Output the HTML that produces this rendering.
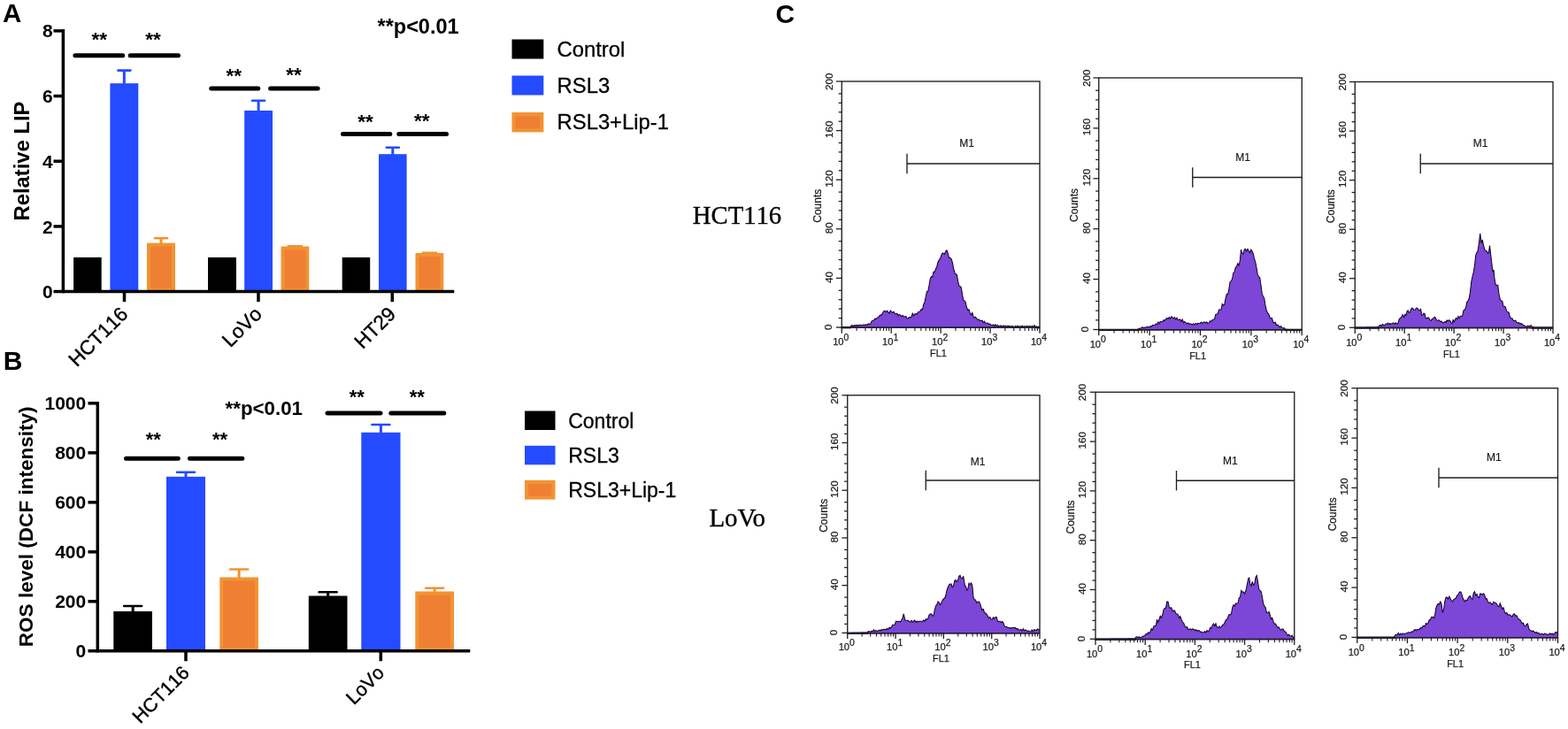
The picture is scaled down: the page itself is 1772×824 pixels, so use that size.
<!DOCTYPE html>
<html lang="en">
<head>
<meta charset="utf-8">
<title>Figure - RSL3 / Lip-1: relative LIP, ROS level and FL1 histograms</title>
<style>
html,body{margin:0;padding:0;background:#fff;}
body{width:1772px;height:824px;overflow:hidden;font-family:"Liberation Sans",sans-serif;}
svg{display:block;position:absolute;left:0;top:0;}
svg text{white-space:pre;}
</style>
</head>
<body>
<svg width="1772" height="824" viewBox="0 0 1772 824" role="img" aria-label="Figure: relative LIP, ROS level and flow cytometry histograms">
<rect x="0" y="0" width="1772" height="824" fill="#ffffff"/>
<g id="panelA">
<text x="3" y="25" font-family='"Liberation Sans", sans-serif' font-size="29.5" font-weight="bold" text-anchor="start" fill="#000">A</text>
<rect x="83.1" y="290.9" width="31.6" height="38.7" fill="#000"/>
<rect x="124.4" y="94.2" width="31.9" height="235.4" fill="#244bff"/>
<line x1="140.35" y1="79.6" x2="140.35" y2="95.2" stroke="#244bff" stroke-width="3" stroke-linecap="butt"/>
<line x1="133.35" y1="79.6" x2="147.35" y2="79.6" stroke="#244bff" stroke-width="2.6" stroke-linecap="round"/>
<rect x="168" y="276.6" width="28" height="51" fill="#ee7f33" stroke="#f29333" stroke-width="4"/>
<line x1="182" y1="269.3" x2="182" y2="275.6" stroke="#f29333" stroke-width="3" stroke-linecap="butt"/>
<line x1="175" y1="269.3" x2="189" y2="269.3" stroke="#f29333" stroke-width="2.6" stroke-linecap="round"/>
<rect x="235" y="290.9" width="32" height="38.7" fill="#000"/>
<rect x="276.2" y="125" width="31.8" height="204.6" fill="#244bff"/>
<line x1="292.1" y1="113.8" x2="292.1" y2="126" stroke="#244bff" stroke-width="3" stroke-linecap="butt"/>
<line x1="285.1" y1="113.8" x2="299.1" y2="113.8" stroke="#244bff" stroke-width="2.6" stroke-linecap="round"/>
<rect x="319.5" y="280.5" width="27.8" height="47.1" fill="#ee7f33" stroke="#f29333" stroke-width="4"/>
<rect x="386.7" y="290.9" width="31.5" height="38.7" fill="#000"/>
<rect x="428" y="174.2" width="31.6" height="155.4" fill="#244bff"/>
<line x1="443.8" y1="166.8" x2="443.8" y2="175.2" stroke="#244bff" stroke-width="3" stroke-linecap="butt"/>
<line x1="436.8" y1="166.8" x2="450.8" y2="166.8" stroke="#244bff" stroke-width="2.6" stroke-linecap="round"/>
<rect x="471.5" y="288" width="27.8" height="39.6" fill="#ee7f33" stroke="#f29333" stroke-width="4"/>
<line x1="325.5" y1="278" x2="341.3" y2="278" stroke="#f29333" stroke-width="2" stroke-linecap="round"/>
<line x1="477.5" y1="285.5" x2="493.3" y2="285.5" stroke="#f29333" stroke-width="2" stroke-linecap="round"/>
<line x1="71.4" y1="33.1" x2="71.4" y2="331.35" stroke="#000" stroke-width="3.5" stroke-linecap="butt"/>
<line x1="60.5" y1="329.6" x2="513.3" y2="329.6" stroke="#000" stroke-width="3.5" stroke-linecap="butt"/>
<text x="59.6" y="337.2" font-family='"Liberation Sans", sans-serif' font-size="21" font-weight="bold" text-anchor="end" fill="#000">0</text>
<line x1="60.5" y1="255.92" x2="71.4" y2="255.92" stroke="#000" stroke-width="3.5" stroke-linecap="butt"/>
<text x="59.6" y="263.52" font-family='"Liberation Sans", sans-serif' font-size="21" font-weight="bold" text-anchor="end" fill="#000">2</text>
<line x1="60.5" y1="182.24" x2="71.4" y2="182.24" stroke="#000" stroke-width="3.5" stroke-linecap="butt"/>
<text x="59.6" y="189.84" font-family='"Liberation Sans", sans-serif' font-size="21" font-weight="bold" text-anchor="end" fill="#000">4</text>
<line x1="60.5" y1="108.56" x2="71.4" y2="108.56" stroke="#000" stroke-width="3.5" stroke-linecap="butt"/>
<text x="59.6" y="116.16" font-family='"Liberation Sans", sans-serif' font-size="21" font-weight="bold" text-anchor="end" fill="#000">6</text>
<line x1="60.5" y1="34.88" x2="71.4" y2="34.88" stroke="#000" stroke-width="3.5" stroke-linecap="butt"/>
<text x="59.6" y="42.48" font-family='"Liberation Sans", sans-serif' font-size="21" font-weight="bold" text-anchor="end" fill="#000">8</text>
<line x1="140.5" y1="329.6" x2="140.5" y2="341.2" stroke="#000" stroke-width="3.5" stroke-linecap="butt"/>
<line x1="292" y1="329.6" x2="292" y2="341.2" stroke="#000" stroke-width="3.5" stroke-linecap="butt"/>
<line x1="443.3" y1="329.6" x2="443.3" y2="341.2" stroke="#000" stroke-width="3.5" stroke-linecap="butt"/>
<text x="32.9" y="182" font-family='"Liberation Sans", sans-serif' font-size="23.8" font-weight="bold" text-anchor="middle" fill="#000" transform="rotate(-90 32.9 182)">Relative LIP</text>
<text x="145.9" y="356.3" font-family='"Liberation Sans", sans-serif' font-size="22.5" font-weight="normal" text-anchor="end" fill="#000" transform="rotate(-45 145.9 356.3)" style="font-kerning:none" stroke="#000" stroke-width="0.4">HCT116</text>
<text x="297.4" y="356.3" font-family='"Liberation Sans", sans-serif' font-size="22.5" font-weight="normal" text-anchor="end" fill="#000" transform="rotate(-45 297.4 356.3)" style="font-kerning:none" stroke="#000" stroke-width="0.4">LoVo</text>
<text x="448.7" y="356.3" font-family='"Liberation Sans", sans-serif' font-size="22.5" font-weight="normal" text-anchor="end" fill="#000" transform="rotate(-45 448.7 356.3)" style="font-kerning:none" stroke="#000" stroke-width="0.4">HT29</text>
<line x1="84.9" y1="62.8" x2="138.7" y2="62.8" stroke="#000" stroke-width="5" stroke-linecap="round"/>
<text x="112.2" y="52.4" font-family='"Liberation Sans", sans-serif' font-size="22.5" font-weight="bold" text-anchor="middle" fill="#000">**</text>
<line x1="147.2" y1="62.8" x2="201.5" y2="62.8" stroke="#000" stroke-width="5" stroke-linecap="round"/>
<text x="173" y="52.4" font-family='"Liberation Sans", sans-serif' font-size="22.5" font-weight="bold" text-anchor="middle" fill="#000">**</text>
<line x1="238.7" y1="100" x2="291.8" y2="100" stroke="#000" stroke-width="5" stroke-linecap="round"/>
<text x="264.2" y="93.4" font-family='"Liberation Sans", sans-serif' font-size="22.5" font-weight="bold" text-anchor="middle" fill="#000">**</text>
<line x1="305.6" y1="100" x2="359.1" y2="100" stroke="#000" stroke-width="5" stroke-linecap="round"/>
<text x="331.9" y="92.2" font-family='"Liberation Sans", sans-serif' font-size="22.5" font-weight="bold" text-anchor="middle" fill="#000">**</text>
<line x1="387.5" y1="151.6" x2="440.8" y2="151.6" stroke="#000" stroke-width="5" stroke-linecap="round"/>
<text x="413.1" y="144.6" font-family='"Liberation Sans", sans-serif' font-size="22.5" font-weight="bold" text-anchor="middle" fill="#000">**</text>
<line x1="450.8" y1="151.6" x2="504.5" y2="151.6" stroke="#000" stroke-width="5" stroke-linecap="round"/>
<text x="476.8" y="143.6" font-family='"Liberation Sans", sans-serif' font-size="22.5" font-weight="bold" text-anchor="middle" fill="#000">**</text>
<text x="426.5" y="38.1" font-family='"Liberation Sans", sans-serif' font-size="23.5" font-weight="bold" text-anchor="start" fill="#000">**p&lt;0.01</text>
<rect x="578.5" y="44.5" width="35.8" height="22" fill="#000"/>
<text x="629.6" y="63.6" font-family='"Liberation Sans", sans-serif' font-size="23.8" font-weight="normal" text-anchor="start" fill="#000" stroke="#000" stroke-width="0.3">Control</text>
<rect x="578.5" y="85.5" width="35.8" height="22" fill="#244bff"/>
<text x="629.6" y="104.6" font-family='"Liberation Sans", sans-serif' font-size="23.8" font-weight="normal" text-anchor="start" fill="#000" stroke="#000" stroke-width="0.3">RSL3</text>
<rect x="580.6" y="129.1" width="31.6" height="18.2" fill="#ee7f33" stroke="#f29333" stroke-width="4.2"/>
<text x="629.6" y="145.8" font-family='"Liberation Sans", sans-serif' font-size="23.8" font-weight="normal" text-anchor="start" fill="#000" stroke="#000" stroke-width="0.3">RSL3+Lip-1</text>
</g>
<g id="panelB">
<text x="3.7" y="417.6" font-family='"Liberation Sans", sans-serif' font-size="30" font-weight="bold" text-anchor="start" fill="#000">B</text>
<rect x="128.3" y="691" width="43.7" height="44.8" fill="#000"/>
<line x1="150.15" y1="685" x2="150.15" y2="692" stroke="#000" stroke-width="3" stroke-linecap="butt"/>
<line x1="140.15" y1="685" x2="160.15" y2="685" stroke="#000" stroke-width="2.6" stroke-linecap="round"/>
<rect x="188" y="538.8" width="44" height="197" fill="#244bff"/>
<line x1="210" y1="533.8" x2="210" y2="539.8" stroke="#244bff" stroke-width="3" stroke-linecap="butt"/>
<line x1="200" y1="533.8" x2="220" y2="533.8" stroke="#244bff" stroke-width="2.6" stroke-linecap="round"/>
<rect x="250.3" y="654.5" width="39.7" height="79.3" fill="#ee7f33" stroke="#f29333" stroke-width="4"/>
<line x1="270.15" y1="643.5" x2="270.15" y2="653.5" stroke="#f29333" stroke-width="3" stroke-linecap="butt"/>
<line x1="260.15" y1="643.5" x2="280.15" y2="643.5" stroke="#f29333" stroke-width="2.6" stroke-linecap="round"/>
<rect x="348.8" y="673.5" width="43.7" height="62.3" fill="#000"/>
<line x1="370.65" y1="669.3" x2="370.65" y2="674.5" stroke="#000" stroke-width="3" stroke-linecap="butt"/>
<line x1="360.65" y1="669.3" x2="380.65" y2="669.3" stroke="#000" stroke-width="2.6" stroke-linecap="round"/>
<rect x="408.3" y="488.8" width="44.2" height="247" fill="#244bff"/>
<line x1="430.4" y1="480" x2="430.4" y2="489.8" stroke="#244bff" stroke-width="3" stroke-linecap="butt"/>
<line x1="420.4" y1="480" x2="440.4" y2="480" stroke="#244bff" stroke-width="2.6" stroke-linecap="round"/>
<rect x="471.3" y="670.5" width="39.7" height="63.3" fill="#ee7f33" stroke="#f29333" stroke-width="4"/>
<line x1="491.15" y1="664.8" x2="491.15" y2="669.5" stroke="#f29333" stroke-width="3" stroke-linecap="butt"/>
<line x1="481.15" y1="664.8" x2="501.15" y2="664.8" stroke="#f29333" stroke-width="2.6" stroke-linecap="round"/>
<line x1="110.3" y1="453.9" x2="110.3" y2="737.55" stroke="#000" stroke-width="3.5" stroke-linecap="butt"/>
<line x1="99.5" y1="735.8" x2="531.3" y2="735.8" stroke="#000" stroke-width="3.5" stroke-linecap="butt"/>
<text x="97.2" y="743.4" font-family='"Liberation Sans", sans-serif' font-size="21" font-weight="bold" text-anchor="end" fill="#000">0</text>
<line x1="99.5" y1="679.8" x2="110.3" y2="679.8" stroke="#000" stroke-width="3.5" stroke-linecap="butt"/>
<text x="97.2" y="687.4" font-family='"Liberation Sans", sans-serif' font-size="21" font-weight="bold" text-anchor="end" fill="#000">200</text>
<line x1="99.5" y1="623.8" x2="110.3" y2="623.8" stroke="#000" stroke-width="3.5" stroke-linecap="butt"/>
<text x="97.2" y="631.4" font-family='"Liberation Sans", sans-serif' font-size="21" font-weight="bold" text-anchor="end" fill="#000">400</text>
<line x1="99.5" y1="567.8" x2="110.3" y2="567.8" stroke="#000" stroke-width="3.5" stroke-linecap="butt"/>
<text x="97.2" y="575.4" font-family='"Liberation Sans", sans-serif' font-size="21" font-weight="bold" text-anchor="end" fill="#000">600</text>
<line x1="99.5" y1="511.8" x2="110.3" y2="511.8" stroke="#000" stroke-width="3.5" stroke-linecap="butt"/>
<text x="97.2" y="519.4" font-family='"Liberation Sans", sans-serif' font-size="21" font-weight="bold" text-anchor="end" fill="#000">800</text>
<line x1="99.5" y1="455.8" x2="110.3" y2="455.8" stroke="#000" stroke-width="3.5" stroke-linecap="butt"/>
<text x="97.2" y="463.4" font-family='"Liberation Sans", sans-serif' font-size="21" font-weight="bold" text-anchor="end" fill="#000">1000</text>
<line x1="210" y1="735.8" x2="210" y2="747.3" stroke="#000" stroke-width="3.5" stroke-linecap="butt"/>
<line x1="430.3" y1="735.8" x2="430.3" y2="747.3" stroke="#000" stroke-width="3.5" stroke-linecap="butt"/>
<text x="36.9" y="595.3" font-family='"Liberation Sans", sans-serif' font-size="22.55" font-weight="bold" text-anchor="middle" fill="#000" transform="rotate(-90 36.9 595.3)">ROS level (DCF intensity)</text>
<text x="215.3" y="761.8" font-family='"Liberation Sans", sans-serif' font-size="21.6" font-weight="normal" text-anchor="end" fill="#000" transform="rotate(-45 215.3 761.8)" style="font-kerning:none" stroke="#000" stroke-width="0.4">HCT116</text>
<text x="435.6" y="761.8" font-family='"Liberation Sans", sans-serif' font-size="21.6" font-weight="normal" text-anchor="end" fill="#000" transform="rotate(-45 435.6 761.8)" style="font-kerning:none" stroke="#000" stroke-width="0.4">LoVo</text>
<line x1="142.5" y1="518.3" x2="201.3" y2="518.3" stroke="#000" stroke-width="5" stroke-linecap="round"/>
<text x="173.2" y="503.9" font-family='"Liberation Sans", sans-serif' font-size="22" font-weight="bold" text-anchor="middle" fill="#000">**</text>
<line x1="214.5" y1="518.3" x2="273.8" y2="518.3" stroke="#000" stroke-width="5" stroke-linecap="round"/>
<text x="248.5" y="503.9" font-family='"Liberation Sans", sans-serif' font-size="22" font-weight="bold" text-anchor="middle" fill="#000">**</text>
<line x1="370" y1="467" x2="430" y2="467" stroke="#000" stroke-width="5" stroke-linecap="round"/>
<text x="403.2" y="456" font-family='"Liberation Sans", sans-serif' font-size="22" font-weight="bold" text-anchor="middle" fill="#000">**</text>
<line x1="441.8" y1="467" x2="501.8" y2="467" stroke="#000" stroke-width="5" stroke-linecap="round"/>
<text x="471.2" y="456" font-family='"Liberation Sans", sans-serif' font-size="22" font-weight="bold" text-anchor="middle" fill="#000">**</text>
<text x="254.6" y="468.8" font-family='"Liberation Sans", sans-serif' font-size="22.3" font-weight="bold" text-anchor="start" fill="#000">**p&lt;0.01</text>
<rect x="593" y="464.5" width="34.5" height="21.5" fill="#000"/>
<text x="642.2" y="484.1" font-family='"Liberation Sans", sans-serif' font-size="23" font-weight="normal" text-anchor="start" fill="#000" stroke="#000" stroke-width="0.3">Control</text>
<rect x="593" y="503.8" width="34.5" height="21.5" fill="#244bff"/>
<text x="642.2" y="522.7" font-family='"Liberation Sans", sans-serif' font-size="23" font-weight="normal" text-anchor="start" fill="#000" stroke="#000" stroke-width="0.3">RSL3</text>
<rect x="595.1" y="544.9" width="30.3" height="17.6" fill="#ee7f33" stroke="#f29333" stroke-width="4.2"/>
<text x="642.2" y="561.6" font-family='"Liberation Sans", sans-serif' font-size="23" font-weight="normal" text-anchor="start" fill="#000" stroke="#000" stroke-width="0.3">RSL3+Lip-1</text>
</g>
<g id="panelC">
<text x="876.6" y="25.7" font-family='"Liberation Sans", sans-serif' font-size="30" font-weight="bold" text-anchor="start" fill="#000">C</text>
<text x="782.8" y="252.9" font-family='"Liberation Serif", serif' font-size="28.7" font-weight="normal" text-anchor="start" fill="#000" style="font-kerning:none" stroke="#000" stroke-width="0.35">HCT116</text>
<text x="801.4" y="594.9" font-family='"Liberation Serif", serif' font-size="28.9" font-weight="normal" text-anchor="start" fill="#000" stroke="#000" stroke-width="0.35">LoVo</text>
<g id="hist1">
<path d="M951.25 370.3 L951.25 370.3 L952.44 370.1 L953.62 370.1 L954.81 370.1 L956 370.1 L957.19 370.1 L958.38 370.1 L959.56 370.1 L960.75 370.3 L961.75 368.23 L962.95 367.6 L964.16 368.88 L965.36 367.51 L966.57 368.27 L967.77 367.46 L968.98 368.12 L970.18 367.45 L971.39 367.89 L972.59 367.1 L973.8 367.9 L975 367.4 L976.25 366.77 L977.5 367.63 L978.75 366.68 L980 367.52 L981.25 365.87 L982.5 366.56 L983.75 365.89 L985 363.1 L986.25 362.5 L987.5 362.07 L988.75 360.16 L990 360.6 L991.25 359.16 L992.5 358.75 L993.75 357.09 L995 355.77 L996.25 356.25 L997.5 353.75 L998.75 351.61 L1000 351.25 L1001.25 352.74 L1002.5 351.08 L1003.75 353 L1005 354.02 L1006.25 350.92 L1007.5 352.5 L1008.75 353.53 L1010 352.35 L1011.25 354.21 L1012.5 355 L1013.75 354.22 L1015 356.73 L1016.25 355.44 L1017.5 356.25 L1018.75 357.75 L1020 356.36 L1021.25 358.02 L1022.5 358 L1023.75 357.44 L1025 359.73 L1026.25 360 L1027.5 358.32 L1028.75 359.06 L1030 358 L1031.25 354.18 L1032.5 356.9 L1033.75 354.87 L1035 354.5 L1036.25 355.2 L1037.5 352.69 L1038.75 352.5 L1040 351.62 L1041.25 349.4 L1042.5 350 L1043.75 343.75 L1045 341.45 L1046.25 335 L1047.5 329.41 L1048.75 329.22 L1050 322.5 L1051.25 315.12 L1052.5 312.5 L1053.75 313.43 L1055 307.07 L1056.25 307.5 L1057.5 304 L1058.75 301.25 L1060 296.27 L1061.25 293.75 L1062.5 292.44 L1063.75 288.75 L1065 286.01 L1066.25 286.25 L1067.5 287.14 L1068.75 283.75 L1070 282.81 L1071.25 286.25 L1072.5 291.4 L1073.75 291.25 L1075 292.55 L1076.25 296.25 L1078 305 L1079.25 309.08 L1080.5 310 L1081.5 310.75 L1082.5 317.5 L1083.75 322.51 L1085 323.75 L1086.25 324.71 L1087.5 332.5 L1088.75 339.39 L1090 340 L1091.25 342.06 L1092.5 347.5 L1093.75 350.53 L1095 349.71 L1096.25 353.75 L1097.5 355.98 L1098.75 353.48 L1100 357.5 L1101.25 359.16 L1102.5 358.19 L1103.75 360 L1105 361.65 L1106.25 360.88 L1107.5 362.43 L1108.75 362.5 L1110 362.14 L1111.25 364.53 L1112.5 363.21 L1113.75 365.49 L1115 365.16 L1116.25 365.15 L1117.5 366.47 L1118.75 366.18 L1120 367.33 L1121.25 367.4 L1122.5 366.86 L1123.75 368.36 L1125 366.84 L1126.25 368.57 L1127.5 367.41 L1128.75 368.7 L1130 368.51 L1131.25 367.81 L1132.5 369.35 L1133.75 368.12 L1135 368.56 L1136.25 368.2 L1137.5 369.56 L1138.75 368.08 L1140 368.62 L1141.25 368.44 L1142.5 369.34 L1143.75 368.43 L1145 369.07 L1146.25 369.55 L1147.5 368.36 L1148.75 369.61 L1150 368.07 L1151.25 369.65 L1152.5 368.63 L1153.75 369.19 L1155 368.17 L1156.25 369.48 L1157.5 368.54 L1158.75 369.13 L1160 368.79 L1161.25 368.63 L1162.5 369.15 L1163.75 368.37 L1165 369.55 L1166.25 368.39 L1167.5 369.6 L1168.75 367.74 L1170 369.4 L1171.25 368.82 L1172.5 369.47 L1173.75 369.3 L1175 369.35 L1175 370.3 Z" fill="#7c46d6" stroke="none"/>
<path d="M951.25 370.3 L952.44 370.1 L953.62 370.1 L954.81 370.1 L956 370.1 L957.19 370.1 L958.38 370.1 L959.56 370.1 L960.75 370.3 L961.75 368.23 L962.95 367.6 L964.16 368.88 L965.36 367.51 L966.57 368.27 L967.77 367.46 L968.98 368.12 L970.18 367.45 L971.39 367.89 L972.59 367.1 L973.8 367.9 L975 367.4 L976.25 366.77 L977.5 367.63 L978.75 366.68 L980 367.52 L981.25 365.87 L982.5 366.56 L983.75 365.89 L985 363.1 L986.25 362.5 L987.5 362.07 L988.75 360.16 L990 360.6 L991.25 359.16 L992.5 358.75 L993.75 357.09 L995 355.77 L996.25 356.25 L997.5 353.75 L998.75 351.61 L1000 351.25 L1001.25 352.74 L1002.5 351.08 L1003.75 353 L1005 354.02 L1006.25 350.92 L1007.5 352.5 L1008.75 353.53 L1010 352.35 L1011.25 354.21 L1012.5 355 L1013.75 354.22 L1015 356.73 L1016.25 355.44 L1017.5 356.25 L1018.75 357.75 L1020 356.36 L1021.25 358.02 L1022.5 358 L1023.75 357.44 L1025 359.73 L1026.25 360 L1027.5 358.32 L1028.75 359.06 L1030 358 L1031.25 354.18 L1032.5 356.9 L1033.75 354.87 L1035 354.5 L1036.25 355.2 L1037.5 352.69 L1038.75 352.5 L1040 351.62 L1041.25 349.4 L1042.5 350 L1043.75 343.75 L1045 341.45 L1046.25 335 L1047.5 329.41 L1048.75 329.22 L1050 322.5 L1051.25 315.12 L1052.5 312.5 L1053.75 313.43 L1055 307.07 L1056.25 307.5 L1057.5 304 L1058.75 301.25 L1060 296.27 L1061.25 293.75 L1062.5 292.44 L1063.75 288.75 L1065 286.01 L1066.25 286.25 L1067.5 287.14 L1068.75 283.75 L1070 282.81 L1071.25 286.25 L1072.5 291.4 L1073.75 291.25 L1075 292.55 L1076.25 296.25 L1078 305 L1079.25 309.08 L1080.5 310 L1081.5 310.75 L1082.5 317.5 L1083.75 322.51 L1085 323.75 L1086.25 324.71 L1087.5 332.5 L1088.75 339.39 L1090 340 L1091.25 342.06 L1092.5 347.5 L1093.75 350.53 L1095 349.71 L1096.25 353.75 L1097.5 355.98 L1098.75 353.48 L1100 357.5 L1101.25 359.16 L1102.5 358.19 L1103.75 360 L1105 361.65 L1106.25 360.88 L1107.5 362.43 L1108.75 362.5 L1110 362.14 L1111.25 364.53 L1112.5 363.21 L1113.75 365.49 L1115 365.16 L1116.25 365.15 L1117.5 366.47 L1118.75 366.18 L1120 367.33 L1121.25 367.4 L1122.5 366.86 L1123.75 368.36 L1125 366.84 L1126.25 368.57 L1127.5 367.41 L1128.75 368.7 L1130 368.51 L1131.25 367.81 L1132.5 369.35 L1133.75 368.12 L1135 368.56 L1136.25 368.2 L1137.5 369.56 L1138.75 368.08 L1140 368.62 L1141.25 368.44 L1142.5 369.34 L1143.75 368.43 L1145 369.07 L1146.25 369.55 L1147.5 368.36 L1148.75 369.61 L1150 368.07 L1151.25 369.65 L1152.5 368.63 L1153.75 369.19 L1155 368.17 L1156.25 369.48 L1157.5 368.54 L1158.75 369.13 L1160 368.79 L1161.25 368.63 L1162.5 369.15 L1163.75 368.37 L1165 369.55 L1166.25 368.39 L1167.5 369.6 L1168.75 367.74 L1170 369.4 L1171.25 368.82 L1172.5 369.47 L1173.75 369.3 L1175 369.35" fill="none" stroke="#12042a" stroke-width="1.05" stroke-linejoin="miter" stroke-miterlimit="3"/>
<rect x="951.25" y="92" width="223.75" height="278.3" fill="none" stroke="#1f1f1f" stroke-width="1.35"/>
<line x1="950.75" y1="370.3" x2="961.75" y2="370.3" stroke="#0c0c0c" stroke-width="2.2" stroke-linecap="butt"/>
<line x1="1171.25" y1="370.3" x2="1175" y2="370.3" stroke="#0c0c0c" stroke-width="2.2" stroke-linecap="butt"/>
<line x1="951.25" y1="370.3" x2="1175" y2="370.3" stroke="#241a33" stroke-width="1.5" stroke-linecap="butt"/>
<line x1="944.95" y1="370" x2="951.25" y2="370" stroke="#1f1f1f" stroke-width="1.3" stroke-linecap="butt"/>
<line x1="947.65" y1="359.57" x2="951.25" y2="359.57" stroke="#1f1f1f" stroke-width="1.25" stroke-linecap="butt"/>
<line x1="947.65" y1="349.15" x2="951.25" y2="349.15" stroke="#1f1f1f" stroke-width="1.25" stroke-linecap="butt"/>
<line x1="947.65" y1="338.73" x2="951.25" y2="338.73" stroke="#1f1f1f" stroke-width="1.25" stroke-linecap="butt"/>
<line x1="947.65" y1="328.3" x2="951.25" y2="328.3" stroke="#1f1f1f" stroke-width="1.25" stroke-linecap="butt"/>
<line x1="944.95" y1="314.4" x2="951.25" y2="314.4" stroke="#1f1f1f" stroke-width="1.3" stroke-linecap="butt"/>
<line x1="947.65" y1="303.97" x2="951.25" y2="303.97" stroke="#1f1f1f" stroke-width="1.25" stroke-linecap="butt"/>
<line x1="947.65" y1="293.55" x2="951.25" y2="293.55" stroke="#1f1f1f" stroke-width="1.25" stroke-linecap="butt"/>
<line x1="947.65" y1="283.12" x2="951.25" y2="283.12" stroke="#1f1f1f" stroke-width="1.25" stroke-linecap="butt"/>
<line x1="947.65" y1="272.7" x2="951.25" y2="272.7" stroke="#1f1f1f" stroke-width="1.25" stroke-linecap="butt"/>
<line x1="944.95" y1="258.8" x2="951.25" y2="258.8" stroke="#1f1f1f" stroke-width="1.3" stroke-linecap="butt"/>
<line x1="947.65" y1="248.38" x2="951.25" y2="248.38" stroke="#1f1f1f" stroke-width="1.25" stroke-linecap="butt"/>
<line x1="947.65" y1="237.95" x2="951.25" y2="237.95" stroke="#1f1f1f" stroke-width="1.25" stroke-linecap="butt"/>
<line x1="947.65" y1="227.53" x2="951.25" y2="227.53" stroke="#1f1f1f" stroke-width="1.25" stroke-linecap="butt"/>
<line x1="947.65" y1="217.1" x2="951.25" y2="217.1" stroke="#1f1f1f" stroke-width="1.25" stroke-linecap="butt"/>
<line x1="944.95" y1="203.2" x2="951.25" y2="203.2" stroke="#1f1f1f" stroke-width="1.3" stroke-linecap="butt"/>
<line x1="947.65" y1="192.77" x2="951.25" y2="192.77" stroke="#1f1f1f" stroke-width="1.25" stroke-linecap="butt"/>
<line x1="947.65" y1="182.35" x2="951.25" y2="182.35" stroke="#1f1f1f" stroke-width="1.25" stroke-linecap="butt"/>
<line x1="947.65" y1="171.92" x2="951.25" y2="171.92" stroke="#1f1f1f" stroke-width="1.25" stroke-linecap="butt"/>
<line x1="947.65" y1="161.5" x2="951.25" y2="161.5" stroke="#1f1f1f" stroke-width="1.25" stroke-linecap="butt"/>
<line x1="944.95" y1="147.6" x2="951.25" y2="147.6" stroke="#1f1f1f" stroke-width="1.3" stroke-linecap="butt"/>
<line x1="947.65" y1="137.17" x2="951.25" y2="137.17" stroke="#1f1f1f" stroke-width="1.25" stroke-linecap="butt"/>
<line x1="947.65" y1="126.75" x2="951.25" y2="126.75" stroke="#1f1f1f" stroke-width="1.25" stroke-linecap="butt"/>
<line x1="947.65" y1="116.32" x2="951.25" y2="116.32" stroke="#1f1f1f" stroke-width="1.25" stroke-linecap="butt"/>
<line x1="947.65" y1="105.9" x2="951.25" y2="105.9" stroke="#1f1f1f" stroke-width="1.25" stroke-linecap="butt"/>
<line x1="944.95" y1="92" x2="951.25" y2="92" stroke="#1f1f1f" stroke-width="1.3" stroke-linecap="butt"/>
<text x="939.75" y="369.7" font-family='"Liberation Sans", sans-serif' font-size="11.7" font-weight="normal" text-anchor="middle" fill="#1c1c1c" transform="rotate(-90 939.75 369.7)" stroke="#1c1c1c" stroke-width="0.25">0</text>
<text x="940.95" y="313.4" font-family='"Liberation Sans", sans-serif' font-size="11.7" font-weight="normal" text-anchor="middle" fill="#1c1c1c" transform="rotate(-90 940.95 313.4)" stroke="#1c1c1c" stroke-width="0.25">40</text>
<text x="940.95" y="257.8" font-family='"Liberation Sans", sans-serif' font-size="11.7" font-weight="normal" text-anchor="middle" fill="#1c1c1c" transform="rotate(-90 940.95 257.8)" stroke="#1c1c1c" stroke-width="0.25">80</text>
<text x="940.95" y="201.9" font-family='"Liberation Sans", sans-serif' font-size="11.7" font-weight="normal" text-anchor="middle" fill="#1c1c1c" transform="rotate(-90 940.95 201.9)" stroke="#1c1c1c" stroke-width="0.25">120</text>
<text x="940.95" y="146.3" font-family='"Liberation Sans", sans-serif' font-size="11.7" font-weight="normal" text-anchor="middle" fill="#1c1c1c" transform="rotate(-90 940.95 146.3)" stroke="#1c1c1c" stroke-width="0.25">160</text>
<text x="940.95" y="92.2" font-family='"Liberation Sans", sans-serif' font-size="11.7" font-weight="normal" text-anchor="middle" fill="#1c1c1c" transform="rotate(-90 940.95 92.2)" stroke="#1c1c1c" stroke-width="0.25">200</text>
<text x="928.05" y="232.75" font-family='"Liberation Sans", sans-serif' font-size="12" font-weight="normal" text-anchor="middle" fill="#1c1c1c" transform="rotate(-90 928.05 232.75)" stroke="#1c1c1c" stroke-width="0.25">Counts</text>
<line x1="951.25" y1="370.3" x2="951.25" y2="376.7" stroke="#1f1f1f" stroke-width="1.3" stroke-linecap="butt"/>
<line x1="968.09" y1="370.3" x2="968.09" y2="374" stroke="#1f1f1f" stroke-width="1.1" stroke-linecap="butt"/>
<line x1="977.94" y1="370.3" x2="977.94" y2="374" stroke="#1f1f1f" stroke-width="1.1" stroke-linecap="butt"/>
<line x1="984.93" y1="370.3" x2="984.93" y2="374" stroke="#1f1f1f" stroke-width="1.1" stroke-linecap="butt"/>
<line x1="990.35" y1="370.3" x2="990.35" y2="374" stroke="#1f1f1f" stroke-width="1.1" stroke-linecap="butt"/>
<line x1="994.78" y1="370.3" x2="994.78" y2="374" stroke="#1f1f1f" stroke-width="1.1" stroke-linecap="butt"/>
<line x1="998.52" y1="370.3" x2="998.52" y2="374" stroke="#1f1f1f" stroke-width="1.1" stroke-linecap="butt"/>
<line x1="1001.77" y1="370.3" x2="1001.77" y2="374" stroke="#1f1f1f" stroke-width="1.1" stroke-linecap="butt"/>
<line x1="1004.63" y1="370.3" x2="1004.63" y2="374" stroke="#1f1f1f" stroke-width="1.1" stroke-linecap="butt"/>
<text x="950.25" y="390.4" font-family='"Liberation Sans", sans-serif' font-size="11.2" text-anchor="middle" fill="#1c1c1c" stroke="#1c1c1c" stroke-width="0.25">10<tspan dy="-5.9" font-size="10.4">0</tspan></text>
<line x1="1007.19" y1="370.3" x2="1007.19" y2="376.7" stroke="#1f1f1f" stroke-width="1.3" stroke-linecap="butt"/>
<line x1="1024.03" y1="370.3" x2="1024.03" y2="374" stroke="#1f1f1f" stroke-width="1.1" stroke-linecap="butt"/>
<line x1="1033.88" y1="370.3" x2="1033.88" y2="374" stroke="#1f1f1f" stroke-width="1.1" stroke-linecap="butt"/>
<line x1="1040.87" y1="370.3" x2="1040.87" y2="374" stroke="#1f1f1f" stroke-width="1.1" stroke-linecap="butt"/>
<line x1="1046.29" y1="370.3" x2="1046.29" y2="374" stroke="#1f1f1f" stroke-width="1.1" stroke-linecap="butt"/>
<line x1="1050.72" y1="370.3" x2="1050.72" y2="374" stroke="#1f1f1f" stroke-width="1.1" stroke-linecap="butt"/>
<line x1="1054.46" y1="370.3" x2="1054.46" y2="374" stroke="#1f1f1f" stroke-width="1.1" stroke-linecap="butt"/>
<line x1="1057.7" y1="370.3" x2="1057.7" y2="374" stroke="#1f1f1f" stroke-width="1.1" stroke-linecap="butt"/>
<line x1="1060.57" y1="370.3" x2="1060.57" y2="374" stroke="#1f1f1f" stroke-width="1.1" stroke-linecap="butt"/>
<text x="1006.19" y="390.4" font-family='"Liberation Sans", sans-serif' font-size="11.2" text-anchor="middle" fill="#1c1c1c" stroke="#1c1c1c" stroke-width="0.25">10<tspan dy="-5.9" font-size="10.4">1</tspan></text>
<line x1="1063.12" y1="370.3" x2="1063.12" y2="376.7" stroke="#1f1f1f" stroke-width="1.3" stroke-linecap="butt"/>
<line x1="1079.96" y1="370.3" x2="1079.96" y2="374" stroke="#1f1f1f" stroke-width="1.1" stroke-linecap="butt"/>
<line x1="1089.81" y1="370.3" x2="1089.81" y2="374" stroke="#1f1f1f" stroke-width="1.1" stroke-linecap="butt"/>
<line x1="1096.8" y1="370.3" x2="1096.8" y2="374" stroke="#1f1f1f" stroke-width="1.1" stroke-linecap="butt"/>
<line x1="1102.22" y1="370.3" x2="1102.22" y2="374" stroke="#1f1f1f" stroke-width="1.1" stroke-linecap="butt"/>
<line x1="1106.65" y1="370.3" x2="1106.65" y2="374" stroke="#1f1f1f" stroke-width="1.1" stroke-linecap="butt"/>
<line x1="1110.4" y1="370.3" x2="1110.4" y2="374" stroke="#1f1f1f" stroke-width="1.1" stroke-linecap="butt"/>
<line x1="1113.64" y1="370.3" x2="1113.64" y2="374" stroke="#1f1f1f" stroke-width="1.1" stroke-linecap="butt"/>
<line x1="1116.5" y1="370.3" x2="1116.5" y2="374" stroke="#1f1f1f" stroke-width="1.1" stroke-linecap="butt"/>
<text x="1062.12" y="390.4" font-family='"Liberation Sans", sans-serif' font-size="11.2" text-anchor="middle" fill="#1c1c1c" stroke="#1c1c1c" stroke-width="0.25">10<tspan dy="-5.9" font-size="10.4">2</tspan></text>
<line x1="1119.06" y1="370.3" x2="1119.06" y2="376.7" stroke="#1f1f1f" stroke-width="1.3" stroke-linecap="butt"/>
<line x1="1135.9" y1="370.3" x2="1135.9" y2="374" stroke="#1f1f1f" stroke-width="1.1" stroke-linecap="butt"/>
<line x1="1145.75" y1="370.3" x2="1145.75" y2="374" stroke="#1f1f1f" stroke-width="1.1" stroke-linecap="butt"/>
<line x1="1152.74" y1="370.3" x2="1152.74" y2="374" stroke="#1f1f1f" stroke-width="1.1" stroke-linecap="butt"/>
<line x1="1158.16" y1="370.3" x2="1158.16" y2="374" stroke="#1f1f1f" stroke-width="1.1" stroke-linecap="butt"/>
<line x1="1162.59" y1="370.3" x2="1162.59" y2="374" stroke="#1f1f1f" stroke-width="1.1" stroke-linecap="butt"/>
<line x1="1166.34" y1="370.3" x2="1166.34" y2="374" stroke="#1f1f1f" stroke-width="1.1" stroke-linecap="butt"/>
<line x1="1169.58" y1="370.3" x2="1169.58" y2="374" stroke="#1f1f1f" stroke-width="1.1" stroke-linecap="butt"/>
<line x1="1172.44" y1="370.3" x2="1172.44" y2="374" stroke="#1f1f1f" stroke-width="1.1" stroke-linecap="butt"/>
<text x="1118.06" y="390.4" font-family='"Liberation Sans", sans-serif' font-size="11.2" text-anchor="middle" fill="#1c1c1c" stroke="#1c1c1c" stroke-width="0.25">10<tspan dy="-5.9" font-size="10.4">3</tspan></text>
<line x1="1175" y1="370.3" x2="1175" y2="376.7" stroke="#1f1f1f" stroke-width="1.3" stroke-linecap="butt"/>
<text x="1174" y="390.4" font-family='"Liberation Sans", sans-serif' font-size="11.2" text-anchor="middle" fill="#1c1c1c" stroke="#1c1c1c" stroke-width="0.25">10<tspan dy="-5.9" font-size="10.4">4</tspan></text>
<text x="1060.5" y="402.9" font-family='"Liberation Sans", sans-serif' font-size="10.9" font-weight="normal" text-anchor="middle" fill="#1c1c1c" stroke="#1c1c1c" stroke-width="0.25">FL1</text>
<line x1="1025" y1="185" x2="1175" y2="185" stroke="#1f1f1f" stroke-width="1.35" stroke-linecap="butt"/>
<line x1="1025" y1="173.8" x2="1025" y2="196.2" stroke="#1f1f1f" stroke-width="1.35" stroke-linecap="butt"/>
<text x="1092.6" y="166.2" font-family='"Liberation Sans", sans-serif' font-size="12" font-weight="normal" text-anchor="middle" fill="#1c1c1c" stroke="#1c1c1c" stroke-width="0.2">M1</text>
</g>
<g id="hist2">
<path d="M1241.75 372.8 L1241.75 372.8 L1242.99 372.6 L1244.22 372.6 L1245.46 372.6 L1246.69 372.6 L1247.93 372.6 L1249.16 372.6 L1250.4 372.6 L1251.64 372.6 L1252.87 372.6 L1254.11 372.6 L1255.34 372.6 L1256.58 372.6 L1257.81 372.6 L1259.05 372.6 L1260.29 372.6 L1261.52 372.6 L1262.76 372.6 L1263.99 372.6 L1265.23 372.6 L1266.46 372.6 L1267.7 372.6 L1268.94 372.6 L1270.17 372.6 L1271.41 372.6 L1272.64 372.6 L1273.88 372.6 L1275.11 372.6 L1276.35 372.6 L1277.59 372.6 L1278.82 372.6 L1280.06 372.6 L1281.29 372.6 L1282.53 372.59 L1283.76 372.59 L1285 372.58 L1286.25 372.03 L1287.5 371.17 L1288.75 371.27 L1290 370.38 L1291.25 369.7 L1292.5 370.8 L1293.75 369.86 L1295 370.62 L1296.25 369.14 L1297.5 369.83 L1298.75 369.89 L1300 368.57 L1301.25 369.24 L1302.5 367.39 L1303.75 367.98 L1305 367.08 L1306.25 366.12 L1307.5 366.8 L1308.75 364.05 L1310 365.77 L1311.25 363.33 L1312.5 363.75 L1313.75 363.67 L1315 361.62 L1316.25 362.27 L1317.5 360.5 L1318.75 359.49 L1320 360.65 L1321.25 358.47 L1322.5 360.26 L1323.75 357.81 L1325 358.75 L1326.25 360.11 L1327.5 358.59 L1328.75 361.04 L1330 359.22 L1331.25 361.66 L1332.5 361.25 L1333.75 360.96 L1335 363.54 L1336.25 361.03 L1337.5 364.54 L1338.75 363.42 L1340 364.5 L1341.25 366.03 L1342.5 364.69 L1343.75 366.26 L1345 365.83 L1346.25 366.27 L1347.5 367.08 L1348.75 365.81 L1350 367.14 L1351.25 365.45 L1352.5 366.49 L1353.75 365.26 L1355 365.5 L1356.25 365.69 L1357.5 364.06 L1358.75 365.41 L1360 364.5 L1361.25 363.82 L1362.5 365.04 L1363.75 363.91 L1365 365.83 L1366.25 365 L1367.5 362.81 L1368.75 363.47 L1370 361.61 L1371.25 361.25 L1372.5 360.61 L1373.75 355.57 L1375 355 L1376.25 354.72 L1377.5 349.95 L1378.75 350 L1380 350.03 L1381.25 343.48 L1382.5 345 L1383.75 344.22 L1385 337.5 L1386.25 332.34 L1387.5 332.79 L1388.75 327.5 L1390 319.02 L1391.25 317.5 L1392.5 315.42 L1393.75 308.68 L1395 307.5 L1396.25 302.34 L1397.5 301.25 L1398.75 297.7 L1400 300.11 L1401.25 295 L1402.5 282.07 L1403.75 286.25 L1405 287.15 L1406.25 282.05 L1407.5 281.25 L1408.75 283.87 L1410 281.31 L1411.25 283.75 L1412.5 285.75 L1413.75 282.08 L1415 283.75 L1416.25 286.73 L1417.5 292.5 L1418.75 296.14 L1420 302.5 L1421.25 310.4 L1422.5 312.5 L1423.75 313.83 L1425 322.5 L1426.25 332.13 L1427.5 335 L1428.75 337.15 L1430 345 L1431.25 350.79 L1432.5 353.75 L1433.75 354.81 L1435 358.74 L1436.25 360 L1437.5 359.39 L1438.75 364.13 L1440 365 L1441.25 364.2 L1442.5 367.5 L1443.75 367.08 L1445 368.18 L1446.25 369.92 L1447.5 368.54 L1448.75 370.39 L1450 370.93 L1451.25 370.6 L1452.5 372.22 L1453.75 372.17 L1455 372.58 L1456.25 372.6 L1457.5 372.6 L1458.75 372.6 L1460 372.6 L1461.25 372.6 L1462.5 372.6 L1463.75 372.6 L1465 372.6 L1466.25 372.6 L1467.5 372.6 L1468.75 372.6 L1470 372.6 L1471.25 372.8 L1471.25 372.8 Z" fill="#7c46d6" stroke="none"/>
<path d="M1241.75 372.8 L1242.99 372.6 L1244.22 372.6 L1245.46 372.6 L1246.69 372.6 L1247.93 372.6 L1249.16 372.6 L1250.4 372.6 L1251.64 372.6 L1252.87 372.6 L1254.11 372.6 L1255.34 372.6 L1256.58 372.6 L1257.81 372.6 L1259.05 372.6 L1260.29 372.6 L1261.52 372.6 L1262.76 372.6 L1263.99 372.6 L1265.23 372.6 L1266.46 372.6 L1267.7 372.6 L1268.94 372.6 L1270.17 372.6 L1271.41 372.6 L1272.64 372.6 L1273.88 372.6 L1275.11 372.6 L1276.35 372.6 L1277.59 372.6 L1278.82 372.6 L1280.06 372.6 L1281.29 372.6 L1282.53 372.59 L1283.76 372.59 L1285 372.58 L1286.25 372.03 L1287.5 371.17 L1288.75 371.27 L1290 370.38 L1291.25 369.7 L1292.5 370.8 L1293.75 369.86 L1295 370.62 L1296.25 369.14 L1297.5 369.83 L1298.75 369.89 L1300 368.57 L1301.25 369.24 L1302.5 367.39 L1303.75 367.98 L1305 367.08 L1306.25 366.12 L1307.5 366.8 L1308.75 364.05 L1310 365.77 L1311.25 363.33 L1312.5 363.75 L1313.75 363.67 L1315 361.62 L1316.25 362.27 L1317.5 360.5 L1318.75 359.49 L1320 360.65 L1321.25 358.47 L1322.5 360.26 L1323.75 357.81 L1325 358.75 L1326.25 360.11 L1327.5 358.59 L1328.75 361.04 L1330 359.22 L1331.25 361.66 L1332.5 361.25 L1333.75 360.96 L1335 363.54 L1336.25 361.03 L1337.5 364.54 L1338.75 363.42 L1340 364.5 L1341.25 366.03 L1342.5 364.69 L1343.75 366.26 L1345 365.83 L1346.25 366.27 L1347.5 367.08 L1348.75 365.81 L1350 367.14 L1351.25 365.45 L1352.5 366.49 L1353.75 365.26 L1355 365.5 L1356.25 365.69 L1357.5 364.06 L1358.75 365.41 L1360 364.5 L1361.25 363.82 L1362.5 365.04 L1363.75 363.91 L1365 365.83 L1366.25 365 L1367.5 362.81 L1368.75 363.47 L1370 361.61 L1371.25 361.25 L1372.5 360.61 L1373.75 355.57 L1375 355 L1376.25 354.72 L1377.5 349.95 L1378.75 350 L1380 350.03 L1381.25 343.48 L1382.5 345 L1383.75 344.22 L1385 337.5 L1386.25 332.34 L1387.5 332.79 L1388.75 327.5 L1390 319.02 L1391.25 317.5 L1392.5 315.42 L1393.75 308.68 L1395 307.5 L1396.25 302.34 L1397.5 301.25 L1398.75 297.7 L1400 300.11 L1401.25 295 L1402.5 282.07 L1403.75 286.25 L1405 287.15 L1406.25 282.05 L1407.5 281.25 L1408.75 283.87 L1410 281.31 L1411.25 283.75 L1412.5 285.75 L1413.75 282.08 L1415 283.75 L1416.25 286.73 L1417.5 292.5 L1418.75 296.14 L1420 302.5 L1421.25 310.4 L1422.5 312.5 L1423.75 313.83 L1425 322.5 L1426.25 332.13 L1427.5 335 L1428.75 337.15 L1430 345 L1431.25 350.79 L1432.5 353.75 L1433.75 354.81 L1435 358.74 L1436.25 360 L1437.5 359.39 L1438.75 364.13 L1440 365 L1441.25 364.2 L1442.5 367.5 L1443.75 367.08 L1445 368.18 L1446.25 369.92 L1447.5 368.54 L1448.75 370.39 L1450 370.93 L1451.25 370.6 L1452.5 372.22 L1453.75 372.17 L1455 372.58 L1456.25 372.6 L1457.5 372.6 L1458.75 372.6 L1460 372.6 L1461.25 372.6 L1462.5 372.6 L1463.75 372.6 L1465 372.6 L1466.25 372.6 L1467.5 372.6 L1468.75 372.6 L1470 372.6 L1471.25 372.8" fill="none" stroke="#12042a" stroke-width="1.05" stroke-linejoin="miter" stroke-miterlimit="3"/>
<rect x="1241.75" y="88" width="229.5" height="284.8" fill="none" stroke="#1f1f1f" stroke-width="1.35"/>
<line x1="1241.25" y1="372.8" x2="1287.5" y2="372.8" stroke="#0c0c0c" stroke-width="2.2" stroke-linecap="butt"/>
<line x1="1451.25" y1="372.8" x2="1471.25" y2="372.8" stroke="#0c0c0c" stroke-width="2.2" stroke-linecap="butt"/>
<line x1="1241.75" y1="372.8" x2="1471.25" y2="372.8" stroke="#241a33" stroke-width="1.5" stroke-linecap="butt"/>
<line x1="1235.45" y1="372.5" x2="1241.75" y2="372.5" stroke="#1f1f1f" stroke-width="1.3" stroke-linecap="butt"/>
<line x1="1238.15" y1="361.83" x2="1241.75" y2="361.83" stroke="#1f1f1f" stroke-width="1.25" stroke-linecap="butt"/>
<line x1="1238.15" y1="351.16" x2="1241.75" y2="351.16" stroke="#1f1f1f" stroke-width="1.25" stroke-linecap="butt"/>
<line x1="1238.15" y1="340.49" x2="1241.75" y2="340.49" stroke="#1f1f1f" stroke-width="1.25" stroke-linecap="butt"/>
<line x1="1238.15" y1="329.82" x2="1241.75" y2="329.82" stroke="#1f1f1f" stroke-width="1.25" stroke-linecap="butt"/>
<line x1="1235.45" y1="315.6" x2="1241.75" y2="315.6" stroke="#1f1f1f" stroke-width="1.3" stroke-linecap="butt"/>
<line x1="1238.15" y1="304.93" x2="1241.75" y2="304.93" stroke="#1f1f1f" stroke-width="1.25" stroke-linecap="butt"/>
<line x1="1238.15" y1="294.26" x2="1241.75" y2="294.26" stroke="#1f1f1f" stroke-width="1.25" stroke-linecap="butt"/>
<line x1="1238.15" y1="283.59" x2="1241.75" y2="283.59" stroke="#1f1f1f" stroke-width="1.25" stroke-linecap="butt"/>
<line x1="1238.15" y1="272.93" x2="1241.75" y2="272.93" stroke="#1f1f1f" stroke-width="1.25" stroke-linecap="butt"/>
<line x1="1235.45" y1="258.7" x2="1241.75" y2="258.7" stroke="#1f1f1f" stroke-width="1.3" stroke-linecap="butt"/>
<line x1="1238.15" y1="248.03" x2="1241.75" y2="248.03" stroke="#1f1f1f" stroke-width="1.25" stroke-linecap="butt"/>
<line x1="1238.15" y1="237.36" x2="1241.75" y2="237.36" stroke="#1f1f1f" stroke-width="1.25" stroke-linecap="butt"/>
<line x1="1238.15" y1="226.69" x2="1241.75" y2="226.69" stroke="#1f1f1f" stroke-width="1.25" stroke-linecap="butt"/>
<line x1="1238.15" y1="216.02" x2="1241.75" y2="216.02" stroke="#1f1f1f" stroke-width="1.25" stroke-linecap="butt"/>
<line x1="1235.45" y1="201.8" x2="1241.75" y2="201.8" stroke="#1f1f1f" stroke-width="1.3" stroke-linecap="butt"/>
<line x1="1238.15" y1="191.13" x2="1241.75" y2="191.13" stroke="#1f1f1f" stroke-width="1.25" stroke-linecap="butt"/>
<line x1="1238.15" y1="180.46" x2="1241.75" y2="180.46" stroke="#1f1f1f" stroke-width="1.25" stroke-linecap="butt"/>
<line x1="1238.15" y1="169.79" x2="1241.75" y2="169.79" stroke="#1f1f1f" stroke-width="1.25" stroke-linecap="butt"/>
<line x1="1238.15" y1="159.12" x2="1241.75" y2="159.12" stroke="#1f1f1f" stroke-width="1.25" stroke-linecap="butt"/>
<line x1="1235.45" y1="144.9" x2="1241.75" y2="144.9" stroke="#1f1f1f" stroke-width="1.3" stroke-linecap="butt"/>
<line x1="1238.15" y1="134.23" x2="1241.75" y2="134.23" stroke="#1f1f1f" stroke-width="1.25" stroke-linecap="butt"/>
<line x1="1238.15" y1="123.56" x2="1241.75" y2="123.56" stroke="#1f1f1f" stroke-width="1.25" stroke-linecap="butt"/>
<line x1="1238.15" y1="112.89" x2="1241.75" y2="112.89" stroke="#1f1f1f" stroke-width="1.25" stroke-linecap="butt"/>
<line x1="1238.15" y1="102.23" x2="1241.75" y2="102.23" stroke="#1f1f1f" stroke-width="1.25" stroke-linecap="butt"/>
<line x1="1235.45" y1="88" x2="1241.75" y2="88" stroke="#1f1f1f" stroke-width="1.3" stroke-linecap="butt"/>
<text x="1230.5" y="372.2" font-family='"Liberation Sans", sans-serif' font-size="11.7" font-weight="normal" text-anchor="middle" fill="#1c1c1c" transform="rotate(-90 1230.5 372.2)" stroke="#1c1c1c" stroke-width="0.25">0</text>
<text x="1231.7" y="314.6" font-family='"Liberation Sans", sans-serif' font-size="11.7" font-weight="normal" text-anchor="middle" fill="#1c1c1c" transform="rotate(-90 1231.7 314.6)" stroke="#1c1c1c" stroke-width="0.25">40</text>
<text x="1231.7" y="257.7" font-family='"Liberation Sans", sans-serif' font-size="11.7" font-weight="normal" text-anchor="middle" fill="#1c1c1c" transform="rotate(-90 1231.7 257.7)" stroke="#1c1c1c" stroke-width="0.25">80</text>
<text x="1231.7" y="200.5" font-family='"Liberation Sans", sans-serif' font-size="11.7" font-weight="normal" text-anchor="middle" fill="#1c1c1c" transform="rotate(-90 1231.7 200.5)" stroke="#1c1c1c" stroke-width="0.25">120</text>
<text x="1231.7" y="143.6" font-family='"Liberation Sans", sans-serif' font-size="11.7" font-weight="normal" text-anchor="middle" fill="#1c1c1c" transform="rotate(-90 1231.7 143.6)" stroke="#1c1c1c" stroke-width="0.25">160</text>
<text x="1231.7" y="88.2" font-family='"Liberation Sans", sans-serif' font-size="11.7" font-weight="normal" text-anchor="middle" fill="#1c1c1c" transform="rotate(-90 1231.7 88.2)" stroke="#1c1c1c" stroke-width="0.25">200</text>
<text x="1218.05" y="232" font-family='"Liberation Sans", sans-serif' font-size="12" font-weight="normal" text-anchor="middle" fill="#1c1c1c" transform="rotate(-90 1218.05 232)" stroke="#1c1c1c" stroke-width="0.25">Counts</text>
<line x1="1241.75" y1="372.8" x2="1241.75" y2="379.2" stroke="#1f1f1f" stroke-width="1.3" stroke-linecap="butt"/>
<line x1="1259.02" y1="372.8" x2="1259.02" y2="376.5" stroke="#1f1f1f" stroke-width="1.1" stroke-linecap="butt"/>
<line x1="1269.12" y1="372.8" x2="1269.12" y2="376.5" stroke="#1f1f1f" stroke-width="1.1" stroke-linecap="butt"/>
<line x1="1276.29" y1="372.8" x2="1276.29" y2="376.5" stroke="#1f1f1f" stroke-width="1.1" stroke-linecap="butt"/>
<line x1="1281.85" y1="372.8" x2="1281.85" y2="376.5" stroke="#1f1f1f" stroke-width="1.1" stroke-linecap="butt"/>
<line x1="1286.4" y1="372.8" x2="1286.4" y2="376.5" stroke="#1f1f1f" stroke-width="1.1" stroke-linecap="butt"/>
<line x1="1290.24" y1="372.8" x2="1290.24" y2="376.5" stroke="#1f1f1f" stroke-width="1.1" stroke-linecap="butt"/>
<line x1="1293.56" y1="372.8" x2="1293.56" y2="376.5" stroke="#1f1f1f" stroke-width="1.1" stroke-linecap="butt"/>
<line x1="1296.5" y1="372.8" x2="1296.5" y2="376.5" stroke="#1f1f1f" stroke-width="1.1" stroke-linecap="butt"/>
<text x="1240.75" y="393.2" font-family='"Liberation Sans", sans-serif' font-size="11.2" text-anchor="middle" fill="#1c1c1c" stroke="#1c1c1c" stroke-width="0.25">10<tspan dy="-5.9" font-size="10.4">0</tspan></text>
<line x1="1299.12" y1="372.8" x2="1299.12" y2="379.2" stroke="#1f1f1f" stroke-width="1.3" stroke-linecap="butt"/>
<line x1="1316.4" y1="372.8" x2="1316.4" y2="376.5" stroke="#1f1f1f" stroke-width="1.1" stroke-linecap="butt"/>
<line x1="1326.5" y1="372.8" x2="1326.5" y2="376.5" stroke="#1f1f1f" stroke-width="1.1" stroke-linecap="butt"/>
<line x1="1333.67" y1="372.8" x2="1333.67" y2="376.5" stroke="#1f1f1f" stroke-width="1.1" stroke-linecap="butt"/>
<line x1="1339.23" y1="372.8" x2="1339.23" y2="376.5" stroke="#1f1f1f" stroke-width="1.1" stroke-linecap="butt"/>
<line x1="1343.77" y1="372.8" x2="1343.77" y2="376.5" stroke="#1f1f1f" stroke-width="1.1" stroke-linecap="butt"/>
<line x1="1347.61" y1="372.8" x2="1347.61" y2="376.5" stroke="#1f1f1f" stroke-width="1.1" stroke-linecap="butt"/>
<line x1="1350.94" y1="372.8" x2="1350.94" y2="376.5" stroke="#1f1f1f" stroke-width="1.1" stroke-linecap="butt"/>
<line x1="1353.87" y1="372.8" x2="1353.87" y2="376.5" stroke="#1f1f1f" stroke-width="1.1" stroke-linecap="butt"/>
<text x="1298.12" y="393.2" font-family='"Liberation Sans", sans-serif' font-size="11.2" text-anchor="middle" fill="#1c1c1c" stroke="#1c1c1c" stroke-width="0.25">10<tspan dy="-5.9" font-size="10.4">1</tspan></text>
<line x1="1356.5" y1="372.8" x2="1356.5" y2="379.2" stroke="#1f1f1f" stroke-width="1.3" stroke-linecap="butt"/>
<line x1="1373.77" y1="372.8" x2="1373.77" y2="376.5" stroke="#1f1f1f" stroke-width="1.1" stroke-linecap="butt"/>
<line x1="1383.87" y1="372.8" x2="1383.87" y2="376.5" stroke="#1f1f1f" stroke-width="1.1" stroke-linecap="butt"/>
<line x1="1391.04" y1="372.8" x2="1391.04" y2="376.5" stroke="#1f1f1f" stroke-width="1.1" stroke-linecap="butt"/>
<line x1="1396.6" y1="372.8" x2="1396.6" y2="376.5" stroke="#1f1f1f" stroke-width="1.1" stroke-linecap="butt"/>
<line x1="1401.15" y1="372.8" x2="1401.15" y2="376.5" stroke="#1f1f1f" stroke-width="1.1" stroke-linecap="butt"/>
<line x1="1404.99" y1="372.8" x2="1404.99" y2="376.5" stroke="#1f1f1f" stroke-width="1.1" stroke-linecap="butt"/>
<line x1="1408.31" y1="372.8" x2="1408.31" y2="376.5" stroke="#1f1f1f" stroke-width="1.1" stroke-linecap="butt"/>
<line x1="1411.25" y1="372.8" x2="1411.25" y2="376.5" stroke="#1f1f1f" stroke-width="1.1" stroke-linecap="butt"/>
<text x="1355.5" y="393.2" font-family='"Liberation Sans", sans-serif' font-size="11.2" text-anchor="middle" fill="#1c1c1c" stroke="#1c1c1c" stroke-width="0.25">10<tspan dy="-5.9" font-size="10.4">2</tspan></text>
<line x1="1413.88" y1="372.8" x2="1413.88" y2="379.2" stroke="#1f1f1f" stroke-width="1.3" stroke-linecap="butt"/>
<line x1="1431.15" y1="372.8" x2="1431.15" y2="376.5" stroke="#1f1f1f" stroke-width="1.1" stroke-linecap="butt"/>
<line x1="1441.25" y1="372.8" x2="1441.25" y2="376.5" stroke="#1f1f1f" stroke-width="1.1" stroke-linecap="butt"/>
<line x1="1448.42" y1="372.8" x2="1448.42" y2="376.5" stroke="#1f1f1f" stroke-width="1.1" stroke-linecap="butt"/>
<line x1="1453.98" y1="372.8" x2="1453.98" y2="376.5" stroke="#1f1f1f" stroke-width="1.1" stroke-linecap="butt"/>
<line x1="1458.52" y1="372.8" x2="1458.52" y2="376.5" stroke="#1f1f1f" stroke-width="1.1" stroke-linecap="butt"/>
<line x1="1462.36" y1="372.8" x2="1462.36" y2="376.5" stroke="#1f1f1f" stroke-width="1.1" stroke-linecap="butt"/>
<line x1="1465.69" y1="372.8" x2="1465.69" y2="376.5" stroke="#1f1f1f" stroke-width="1.1" stroke-linecap="butt"/>
<line x1="1468.62" y1="372.8" x2="1468.62" y2="376.5" stroke="#1f1f1f" stroke-width="1.1" stroke-linecap="butt"/>
<text x="1412.88" y="393.2" font-family='"Liberation Sans", sans-serif' font-size="11.2" text-anchor="middle" fill="#1c1c1c" stroke="#1c1c1c" stroke-width="0.25">10<tspan dy="-5.9" font-size="10.4">3</tspan></text>
<line x1="1471.25" y1="372.8" x2="1471.25" y2="379.2" stroke="#1f1f1f" stroke-width="1.3" stroke-linecap="butt"/>
<text x="1470.25" y="393.2" font-family='"Liberation Sans", sans-serif' font-size="11.2" text-anchor="middle" fill="#1c1c1c" stroke="#1c1c1c" stroke-width="0.25">10<tspan dy="-5.9" font-size="10.4">4</tspan></text>
<text x="1353.6" y="406" font-family='"Liberation Sans", sans-serif' font-size="10.9" font-weight="normal" text-anchor="middle" fill="#1c1c1c" stroke="#1c1c1c" stroke-width="0.25">FL1</text>
<line x1="1347.75" y1="200.5" x2="1471.25" y2="200.5" stroke="#1f1f1f" stroke-width="1.35" stroke-linecap="butt"/>
<line x1="1347.75" y1="189.3" x2="1347.75" y2="211.7" stroke="#1f1f1f" stroke-width="1.35" stroke-linecap="butt"/>
<text x="1404.6" y="181.8" font-family='"Liberation Sans", sans-serif' font-size="12" font-weight="normal" text-anchor="middle" fill="#1c1c1c" stroke="#1c1c1c" stroke-width="0.2">M1</text>
</g>
<g id="hist3">
<path d="M1531.5 370.6 L1531.5 370.39 L1532.75 370.36 L1534 370.34 L1535.25 370.31 L1536.5 370.29 L1537.75 370.26 L1539 370.23 L1540.25 370.21 L1541.5 370.18 L1542.75 370.16 L1544 370.13 L1545.25 370.11 L1546.5 370.08 L1547.75 370.06 L1549 370.03 L1550.25 370.01 L1551.5 369.98 L1552.75 369.95 L1554 369.93 L1555.25 369.9 L1556.5 369.88 L1557.75 369.85 L1558.6 368.25 L1559.88 367.18 L1561.15 368.52 L1562.42 366.42 L1563.7 367.4 L1564.88 367.49 L1566.05 366.09 L1567.22 366.42 L1568.4 365.03 L1569.58 366.59 L1570.75 365.41 L1571.92 366.36 L1573.1 365.59 L1574.46 364.85 L1575.82 366.37 L1577.18 364.78 L1578.54 366.08 L1579.9 365.59 L1581.15 360.71 L1582.4 359.5 L1583.7 358.67 L1585 355.7 L1586.7 358.3 L1587.83 355.25 L1588.97 356.07 L1590.1 351.9 L1591.23 350.89 L1592.37 353.51 L1593.5 352.7 L1594.75 349.08 L1596 348.1 L1597.7 350.2 L1599.2 350.09 L1600.7 348.1 L1601.97 348.52 L1603.23 350.57 L1604.5 351 L1605.63 349.58 L1606.77 356.28 L1607.9 356.1 L1608.95 354.2 L1610 354.4 L1611.05 358.97 L1612.1 360 L1613.4 358.72 L1614.7 359.1 L1615.95 361.67 L1617.2 362.5 L1618.5 360.24 L1619.8 360.16 L1621.1 358.3 L1622.37 359.14 L1623.63 362.15 L1624.9 362.1 L1626.26 361.82 L1627.62 363.59 L1628.98 362.84 L1630.34 364.72 L1631.7 364.63 L1632.88 363.47 L1634.06 364.35 L1635.24 361.95 L1636.42 363.08 L1637.6 361.7 L1638.73 362.31 L1639.87 364.82 L1641 365.59 L1642.13 361.57 L1643.27 364.01 L1644.4 361.2 L1645.58 359.6 L1646.77 360.62 L1647.95 357.47 L1649.13 359.7 L1650.32 357.34 L1651.5 357.5 L1652.75 356.87 L1654 350.78 L1655.25 350 L1656.5 347.97 L1657.75 341.55 L1659 340 L1660.25 337.23 L1661.5 330 L1662.75 318.23 L1664 312.5 L1665.25 307.63 L1666.5 300 L1667.75 288.62 L1669 285 L1670 284.17 L1671 277.5 L1672.75 263.75 L1674 275 L1675.25 270.93 L1676.5 277.5 L1677.75 281.7 L1679 283.75 L1680.25 283.76 L1681.5 286.25 L1682.5 285.22 L1683.5 277.5 L1685.25 292.5 L1687 307.5 L1688 304.98 L1689 315 L1690.25 321.79 L1691.5 322.5 L1692.75 322.42 L1694 332.5 L1695.25 338.3 L1696.5 340 L1697.75 340.15 L1699 346.09 L1700.25 346.25 L1701.5 347.4 L1702.75 352.13 L1704 352.5 L1705.25 353.3 L1706.5 358.7 L1707.75 360 L1709 359.83 L1710.25 362.5 L1711.5 362.5 L1712.75 362.12 L1714 364.6 L1715.25 365.05 L1716.5 364.66 L1717.75 366.19 L1719 365.46 L1720.25 366.39 L1721.5 367.59 L1722.75 367.89 L1724 369.05 L1725.25 369.38 L1726.5 368.07 L1727.75 368.89 L1729 368.25 L1730.25 367.58 L1731.5 369.73 L1732.75 369.85 L1734 370.39 L1735.22 370.39 L1736.44 370.39 L1737.66 370.39 L1738.88 370.39 L1740.1 370.39 L1741.32 370.39 L1742.54 370.39 L1743.76 370.39 L1744.99 370.39 L1746.21 370.39 L1747.43 370.39 L1748.65 370.39 L1749.87 370.39 L1751.09 370.39 L1752.31 370.39 L1753.53 370.39 L1754.75 370.39 L1754.75 370.6 Z" fill="#7c46d6" stroke="none"/>
<path d="M1531.5 370.39 L1532.75 370.36 L1534 370.34 L1535.25 370.31 L1536.5 370.29 L1537.75 370.26 L1539 370.23 L1540.25 370.21 L1541.5 370.18 L1542.75 370.16 L1544 370.13 L1545.25 370.11 L1546.5 370.08 L1547.75 370.06 L1549 370.03 L1550.25 370.01 L1551.5 369.98 L1552.75 369.95 L1554 369.93 L1555.25 369.9 L1556.5 369.88 L1557.75 369.85 L1558.6 368.25 L1559.88 367.18 L1561.15 368.52 L1562.42 366.42 L1563.7 367.4 L1564.88 367.49 L1566.05 366.09 L1567.22 366.42 L1568.4 365.03 L1569.58 366.59 L1570.75 365.41 L1571.92 366.36 L1573.1 365.59 L1574.46 364.85 L1575.82 366.37 L1577.18 364.78 L1578.54 366.08 L1579.9 365.59 L1581.15 360.71 L1582.4 359.5 L1583.7 358.67 L1585 355.7 L1586.7 358.3 L1587.83 355.25 L1588.97 356.07 L1590.1 351.9 L1591.23 350.89 L1592.37 353.51 L1593.5 352.7 L1594.75 349.08 L1596 348.1 L1597.7 350.2 L1599.2 350.09 L1600.7 348.1 L1601.97 348.52 L1603.23 350.57 L1604.5 351 L1605.63 349.58 L1606.77 356.28 L1607.9 356.1 L1608.95 354.2 L1610 354.4 L1611.05 358.97 L1612.1 360 L1613.4 358.72 L1614.7 359.1 L1615.95 361.67 L1617.2 362.5 L1618.5 360.24 L1619.8 360.16 L1621.1 358.3 L1622.37 359.14 L1623.63 362.15 L1624.9 362.1 L1626.26 361.82 L1627.62 363.59 L1628.98 362.84 L1630.34 364.72 L1631.7 364.63 L1632.88 363.47 L1634.06 364.35 L1635.24 361.95 L1636.42 363.08 L1637.6 361.7 L1638.73 362.31 L1639.87 364.82 L1641 365.59 L1642.13 361.57 L1643.27 364.01 L1644.4 361.2 L1645.58 359.6 L1646.77 360.62 L1647.95 357.47 L1649.13 359.7 L1650.32 357.34 L1651.5 357.5 L1652.75 356.87 L1654 350.78 L1655.25 350 L1656.5 347.97 L1657.75 341.55 L1659 340 L1660.25 337.23 L1661.5 330 L1662.75 318.23 L1664 312.5 L1665.25 307.63 L1666.5 300 L1667.75 288.62 L1669 285 L1670 284.17 L1671 277.5 L1672.75 263.75 L1674 275 L1675.25 270.93 L1676.5 277.5 L1677.75 281.7 L1679 283.75 L1680.25 283.76 L1681.5 286.25 L1682.5 285.22 L1683.5 277.5 L1685.25 292.5 L1687 307.5 L1688 304.98 L1689 315 L1690.25 321.79 L1691.5 322.5 L1692.75 322.42 L1694 332.5 L1695.25 338.3 L1696.5 340 L1697.75 340.15 L1699 346.09 L1700.25 346.25 L1701.5 347.4 L1702.75 352.13 L1704 352.5 L1705.25 353.3 L1706.5 358.7 L1707.75 360 L1709 359.83 L1710.25 362.5 L1711.5 362.5 L1712.75 362.12 L1714 364.6 L1715.25 365.05 L1716.5 364.66 L1717.75 366.19 L1719 365.46 L1720.25 366.39 L1721.5 367.59 L1722.75 367.89 L1724 369.05 L1725.25 369.38 L1726.5 368.07 L1727.75 368.89 L1729 368.25 L1730.25 367.58 L1731.5 369.73 L1732.75 369.85 L1734 370.39 L1735.22 370.39 L1736.44 370.39 L1737.66 370.39 L1738.88 370.39 L1740.1 370.39 L1741.32 370.39 L1742.54 370.39 L1743.76 370.39 L1744.99 370.39 L1746.21 370.39 L1747.43 370.39 L1748.65 370.39 L1749.87 370.39 L1751.09 370.39 L1752.31 370.39 L1753.53 370.39 L1754.75 370.39" fill="none" stroke="#12042a" stroke-width="1.05" stroke-linejoin="miter" stroke-miterlimit="3"/>
<rect x="1531.25" y="92.5" width="223.75" height="278.1" fill="none" stroke="#1f1f1f" stroke-width="1.35"/>
<line x1="1530.75" y1="370.6" x2="1558.6" y2="370.6" stroke="#0c0c0c" stroke-width="2.2" stroke-linecap="butt"/>
<line x1="1730.25" y1="370.6" x2="1755" y2="370.6" stroke="#0c0c0c" stroke-width="2.2" stroke-linecap="butt"/>
<line x1="1531.25" y1="370.6" x2="1755" y2="370.6" stroke="#241a33" stroke-width="1.5" stroke-linecap="butt"/>
<line x1="1524.95" y1="370.3" x2="1531.25" y2="370.3" stroke="#1f1f1f" stroke-width="1.3" stroke-linecap="butt"/>
<line x1="1527.65" y1="359.88" x2="1531.25" y2="359.88" stroke="#1f1f1f" stroke-width="1.25" stroke-linecap="butt"/>
<line x1="1527.65" y1="349.47" x2="1531.25" y2="349.47" stroke="#1f1f1f" stroke-width="1.25" stroke-linecap="butt"/>
<line x1="1527.65" y1="339.05" x2="1531.25" y2="339.05" stroke="#1f1f1f" stroke-width="1.25" stroke-linecap="butt"/>
<line x1="1527.65" y1="328.63" x2="1531.25" y2="328.63" stroke="#1f1f1f" stroke-width="1.25" stroke-linecap="butt"/>
<line x1="1524.95" y1="314.74" x2="1531.25" y2="314.74" stroke="#1f1f1f" stroke-width="1.3" stroke-linecap="butt"/>
<line x1="1527.65" y1="304.32" x2="1531.25" y2="304.32" stroke="#1f1f1f" stroke-width="1.25" stroke-linecap="butt"/>
<line x1="1527.65" y1="293.91" x2="1531.25" y2="293.91" stroke="#1f1f1f" stroke-width="1.25" stroke-linecap="butt"/>
<line x1="1527.65" y1="283.49" x2="1531.25" y2="283.49" stroke="#1f1f1f" stroke-width="1.25" stroke-linecap="butt"/>
<line x1="1527.65" y1="273.07" x2="1531.25" y2="273.07" stroke="#1f1f1f" stroke-width="1.25" stroke-linecap="butt"/>
<line x1="1524.95" y1="259.18" x2="1531.25" y2="259.18" stroke="#1f1f1f" stroke-width="1.3" stroke-linecap="butt"/>
<line x1="1527.65" y1="248.76" x2="1531.25" y2="248.76" stroke="#1f1f1f" stroke-width="1.25" stroke-linecap="butt"/>
<line x1="1527.65" y1="238.34" x2="1531.25" y2="238.34" stroke="#1f1f1f" stroke-width="1.25" stroke-linecap="butt"/>
<line x1="1527.65" y1="227.93" x2="1531.25" y2="227.93" stroke="#1f1f1f" stroke-width="1.25" stroke-linecap="butt"/>
<line x1="1527.65" y1="217.51" x2="1531.25" y2="217.51" stroke="#1f1f1f" stroke-width="1.25" stroke-linecap="butt"/>
<line x1="1524.95" y1="203.62" x2="1531.25" y2="203.62" stroke="#1f1f1f" stroke-width="1.3" stroke-linecap="butt"/>
<line x1="1527.65" y1="193.2" x2="1531.25" y2="193.2" stroke="#1f1f1f" stroke-width="1.25" stroke-linecap="butt"/>
<line x1="1527.65" y1="182.78" x2="1531.25" y2="182.78" stroke="#1f1f1f" stroke-width="1.25" stroke-linecap="butt"/>
<line x1="1527.65" y1="172.37" x2="1531.25" y2="172.37" stroke="#1f1f1f" stroke-width="1.25" stroke-linecap="butt"/>
<line x1="1527.65" y1="161.95" x2="1531.25" y2="161.95" stroke="#1f1f1f" stroke-width="1.25" stroke-linecap="butt"/>
<line x1="1524.95" y1="148.06" x2="1531.25" y2="148.06" stroke="#1f1f1f" stroke-width="1.3" stroke-linecap="butt"/>
<line x1="1527.65" y1="137.64" x2="1531.25" y2="137.64" stroke="#1f1f1f" stroke-width="1.25" stroke-linecap="butt"/>
<line x1="1527.65" y1="127.22" x2="1531.25" y2="127.22" stroke="#1f1f1f" stroke-width="1.25" stroke-linecap="butt"/>
<line x1="1527.65" y1="116.81" x2="1531.25" y2="116.81" stroke="#1f1f1f" stroke-width="1.25" stroke-linecap="butt"/>
<line x1="1527.65" y1="106.39" x2="1531.25" y2="106.39" stroke="#1f1f1f" stroke-width="1.25" stroke-linecap="butt"/>
<line x1="1524.95" y1="92.5" x2="1531.25" y2="92.5" stroke="#1f1f1f" stroke-width="1.3" stroke-linecap="butt"/>
<text x="1519.5" y="370" font-family='"Liberation Sans", sans-serif' font-size="11.7" font-weight="normal" text-anchor="middle" fill="#1c1c1c" transform="rotate(-90 1519.5 370)" stroke="#1c1c1c" stroke-width="0.25">0</text>
<text x="1520.7" y="313.74" font-family='"Liberation Sans", sans-serif' font-size="11.7" font-weight="normal" text-anchor="middle" fill="#1c1c1c" transform="rotate(-90 1520.7 313.74)" stroke="#1c1c1c" stroke-width="0.25">40</text>
<text x="1520.7" y="258.18" font-family='"Liberation Sans", sans-serif' font-size="11.7" font-weight="normal" text-anchor="middle" fill="#1c1c1c" transform="rotate(-90 1520.7 258.18)" stroke="#1c1c1c" stroke-width="0.25">80</text>
<text x="1520.7" y="202.32" font-family='"Liberation Sans", sans-serif' font-size="11.7" font-weight="normal" text-anchor="middle" fill="#1c1c1c" transform="rotate(-90 1520.7 202.32)" stroke="#1c1c1c" stroke-width="0.25">120</text>
<text x="1520.7" y="146.76" font-family='"Liberation Sans", sans-serif' font-size="11.7" font-weight="normal" text-anchor="middle" fill="#1c1c1c" transform="rotate(-90 1520.7 146.76)" stroke="#1c1c1c" stroke-width="0.25">160</text>
<text x="1520.7" y="92.7" font-family='"Liberation Sans", sans-serif' font-size="11.7" font-weight="normal" text-anchor="middle" fill="#1c1c1c" transform="rotate(-90 1520.7 92.7)" stroke="#1c1c1c" stroke-width="0.25">200</text>
<text x="1507.55" y="233.15" font-family='"Liberation Sans", sans-serif' font-size="12" font-weight="normal" text-anchor="middle" fill="#1c1c1c" transform="rotate(-90 1507.55 233.15)" stroke="#1c1c1c" stroke-width="0.25">Counts</text>
<line x1="1531.25" y1="370.6" x2="1531.25" y2="377" stroke="#1f1f1f" stroke-width="1.3" stroke-linecap="butt"/>
<line x1="1548.09" y1="370.6" x2="1548.09" y2="374.3" stroke="#1f1f1f" stroke-width="1.1" stroke-linecap="butt"/>
<line x1="1557.94" y1="370.6" x2="1557.94" y2="374.3" stroke="#1f1f1f" stroke-width="1.1" stroke-linecap="butt"/>
<line x1="1564.93" y1="370.6" x2="1564.93" y2="374.3" stroke="#1f1f1f" stroke-width="1.1" stroke-linecap="butt"/>
<line x1="1570.35" y1="370.6" x2="1570.35" y2="374.3" stroke="#1f1f1f" stroke-width="1.1" stroke-linecap="butt"/>
<line x1="1574.78" y1="370.6" x2="1574.78" y2="374.3" stroke="#1f1f1f" stroke-width="1.1" stroke-linecap="butt"/>
<line x1="1578.52" y1="370.6" x2="1578.52" y2="374.3" stroke="#1f1f1f" stroke-width="1.1" stroke-linecap="butt"/>
<line x1="1581.77" y1="370.6" x2="1581.77" y2="374.3" stroke="#1f1f1f" stroke-width="1.1" stroke-linecap="butt"/>
<line x1="1584.63" y1="370.6" x2="1584.63" y2="374.3" stroke="#1f1f1f" stroke-width="1.1" stroke-linecap="butt"/>
<text x="1530.25" y="391.2" font-family='"Liberation Sans", sans-serif' font-size="11.2" text-anchor="middle" fill="#1c1c1c" stroke="#1c1c1c" stroke-width="0.25">10<tspan dy="-5.9" font-size="10.4">0</tspan></text>
<line x1="1587.19" y1="370.6" x2="1587.19" y2="377" stroke="#1f1f1f" stroke-width="1.3" stroke-linecap="butt"/>
<line x1="1604.03" y1="370.6" x2="1604.03" y2="374.3" stroke="#1f1f1f" stroke-width="1.1" stroke-linecap="butt"/>
<line x1="1613.88" y1="370.6" x2="1613.88" y2="374.3" stroke="#1f1f1f" stroke-width="1.1" stroke-linecap="butt"/>
<line x1="1620.87" y1="370.6" x2="1620.87" y2="374.3" stroke="#1f1f1f" stroke-width="1.1" stroke-linecap="butt"/>
<line x1="1626.29" y1="370.6" x2="1626.29" y2="374.3" stroke="#1f1f1f" stroke-width="1.1" stroke-linecap="butt"/>
<line x1="1630.72" y1="370.6" x2="1630.72" y2="374.3" stroke="#1f1f1f" stroke-width="1.1" stroke-linecap="butt"/>
<line x1="1634.46" y1="370.6" x2="1634.46" y2="374.3" stroke="#1f1f1f" stroke-width="1.1" stroke-linecap="butt"/>
<line x1="1637.7" y1="370.6" x2="1637.7" y2="374.3" stroke="#1f1f1f" stroke-width="1.1" stroke-linecap="butt"/>
<line x1="1640.57" y1="370.6" x2="1640.57" y2="374.3" stroke="#1f1f1f" stroke-width="1.1" stroke-linecap="butt"/>
<text x="1586.19" y="391.2" font-family='"Liberation Sans", sans-serif' font-size="11.2" text-anchor="middle" fill="#1c1c1c" stroke="#1c1c1c" stroke-width="0.25">10<tspan dy="-5.9" font-size="10.4">1</tspan></text>
<line x1="1643.12" y1="370.6" x2="1643.12" y2="377" stroke="#1f1f1f" stroke-width="1.3" stroke-linecap="butt"/>
<line x1="1659.96" y1="370.6" x2="1659.96" y2="374.3" stroke="#1f1f1f" stroke-width="1.1" stroke-linecap="butt"/>
<line x1="1669.81" y1="370.6" x2="1669.81" y2="374.3" stroke="#1f1f1f" stroke-width="1.1" stroke-linecap="butt"/>
<line x1="1676.8" y1="370.6" x2="1676.8" y2="374.3" stroke="#1f1f1f" stroke-width="1.1" stroke-linecap="butt"/>
<line x1="1682.22" y1="370.6" x2="1682.22" y2="374.3" stroke="#1f1f1f" stroke-width="1.1" stroke-linecap="butt"/>
<line x1="1686.65" y1="370.6" x2="1686.65" y2="374.3" stroke="#1f1f1f" stroke-width="1.1" stroke-linecap="butt"/>
<line x1="1690.4" y1="370.6" x2="1690.4" y2="374.3" stroke="#1f1f1f" stroke-width="1.1" stroke-linecap="butt"/>
<line x1="1693.64" y1="370.6" x2="1693.64" y2="374.3" stroke="#1f1f1f" stroke-width="1.1" stroke-linecap="butt"/>
<line x1="1696.5" y1="370.6" x2="1696.5" y2="374.3" stroke="#1f1f1f" stroke-width="1.1" stroke-linecap="butt"/>
<text x="1642.12" y="391.2" font-family='"Liberation Sans", sans-serif' font-size="11.2" text-anchor="middle" fill="#1c1c1c" stroke="#1c1c1c" stroke-width="0.25">10<tspan dy="-5.9" font-size="10.4">2</tspan></text>
<line x1="1699.06" y1="370.6" x2="1699.06" y2="377" stroke="#1f1f1f" stroke-width="1.3" stroke-linecap="butt"/>
<line x1="1715.9" y1="370.6" x2="1715.9" y2="374.3" stroke="#1f1f1f" stroke-width="1.1" stroke-linecap="butt"/>
<line x1="1725.75" y1="370.6" x2="1725.75" y2="374.3" stroke="#1f1f1f" stroke-width="1.1" stroke-linecap="butt"/>
<line x1="1732.74" y1="370.6" x2="1732.74" y2="374.3" stroke="#1f1f1f" stroke-width="1.1" stroke-linecap="butt"/>
<line x1="1738.16" y1="370.6" x2="1738.16" y2="374.3" stroke="#1f1f1f" stroke-width="1.1" stroke-linecap="butt"/>
<line x1="1742.59" y1="370.6" x2="1742.59" y2="374.3" stroke="#1f1f1f" stroke-width="1.1" stroke-linecap="butt"/>
<line x1="1746.34" y1="370.6" x2="1746.34" y2="374.3" stroke="#1f1f1f" stroke-width="1.1" stroke-linecap="butt"/>
<line x1="1749.58" y1="370.6" x2="1749.58" y2="374.3" stroke="#1f1f1f" stroke-width="1.1" stroke-linecap="butt"/>
<line x1="1752.44" y1="370.6" x2="1752.44" y2="374.3" stroke="#1f1f1f" stroke-width="1.1" stroke-linecap="butt"/>
<text x="1698.06" y="391.2" font-family='"Liberation Sans", sans-serif' font-size="11.2" text-anchor="middle" fill="#1c1c1c" stroke="#1c1c1c" stroke-width="0.25">10<tspan dy="-5.9" font-size="10.4">3</tspan></text>
<line x1="1755" y1="370.6" x2="1755" y2="377" stroke="#1f1f1f" stroke-width="1.3" stroke-linecap="butt"/>
<text x="1754" y="391.2" font-family='"Liberation Sans", sans-serif' font-size="11.2" text-anchor="middle" fill="#1c1c1c" stroke="#1c1c1c" stroke-width="0.25">10<tspan dy="-5.9" font-size="10.4">4</tspan></text>
<text x="1640.4" y="404" font-family='"Liberation Sans", sans-serif' font-size="10.9" font-weight="normal" text-anchor="middle" fill="#1c1c1c" stroke="#1c1c1c" stroke-width="0.25">FL1</text>
<line x1="1605.25" y1="185" x2="1755" y2="185" stroke="#1f1f1f" stroke-width="1.35" stroke-linecap="butt"/>
<line x1="1605.25" y1="173.8" x2="1605.25" y2="196.2" stroke="#1f1f1f" stroke-width="1.35" stroke-linecap="butt"/>
<text x="1673.1" y="166.2" font-family='"Liberation Sans", sans-serif' font-size="12" font-weight="normal" text-anchor="middle" fill="#1c1c1c" stroke="#1c1c1c" stroke-width="0.2">M1</text>
</g>
<g id="hist4">
<path d="M958 715.7 L958 715.5 L959.22 715.47 L960.44 715.44 L961.67 715.42 L962.89 715.39 L964.11 715.36 L965.33 715.33 L966.56 715.31 L967.78 715.28 L969 715.25 L970.22 715.22 L971.44 715.19 L972.67 715.17 L973.89 715.14 L975.11 715.11 L976.33 715.08 L977.56 715.06 L978.78 715.03 L980 715 L981.25 713.53 L982.5 713.75 L983.75 714.31 L985 713.15 L986.25 713.67 L987.5 711.81 L988.75 713.7 L990 712.43 L991.25 713.55 L992.5 713 L993.75 712.05 L995 712.93 L996.25 711.51 L997.5 712.2 L998.75 711.23 L1000 711.25 L1001.25 711.84 L1002.5 710.31 L1003.75 711.45 L1005 709.24 L1006.25 710 L1007.5 708.63 L1008.75 706.3 L1010 706.25 L1011.25 706.08 L1012.5 702.22 L1013.75 702.5 L1015 702.52 L1016.25 702.4 L1017.5 703 L1018.75 701.09 L1020 698.75 L1021.25 693.75 L1023 701.25 L1024.12 701.23 L1025.25 701.22 L1026.38 701.17 L1027.5 702.5 L1028.75 703.18 L1030 701.29 L1031.25 703.2 L1032.5 702 L1033.75 701.13 L1035 703.6 L1036.25 701.95 L1037.5 703 L1038.75 702.33 L1040 702.27 L1041.25 702.24 L1042.5 702.5 L1043.75 700.91 L1045 702.25 L1046.25 699.67 L1047.5 700 L1048.75 699.08 L1050 695 L1051.25 693.97 L1052.5 693.75 L1053.75 695.73 L1055 696.25 L1056.25 689.19 L1057.5 685 L1058.75 683.32 L1060 680 L1061.25 680.88 L1062.5 683.75 L1063.75 681.8 L1065 678.75 L1066.25 676.87 L1067.5 676.25 L1068.75 673.32 L1070 667.5 L1071.25 663.72 L1072.5 660.97 L1073.75 660 L1075 660.03 L1076.25 663.75 L1077.5 662.47 L1078.75 656.25 L1080 655.52 L1081.25 657.5 L1082.5 655.83 L1083.75 651.25 L1085 650.37 L1086.25 653.75 L1087.5 653.67 L1088.75 651.25 L1090.5 662.5 L1091.58 662.88 L1092.67 667.06 L1093.75 666.25 L1095 659.26 L1096.25 660.72 L1097.5 658.75 L1098.75 661.4 L1100 675 L1101.25 678.04 L1102.5 677.97 L1103.75 681.25 L1105 680.53 L1106.25 680 L1107.5 682.16 L1108.75 686.25 L1110 689.74 L1111.25 688.51 L1112.5 692.5 L1113.75 692.98 L1115 694.13 L1116.25 696.25 L1117.5 698.48 L1118.75 697.48 L1120 700 L1121.25 700.41 L1122.5 697.76 L1123.75 699.15 L1125 697.5 L1126.25 697.44 L1127.5 702.46 L1128.75 702.5 L1130 702.03 L1131.25 703.51 L1132.5 702.5 L1133.75 703.48 L1135 707.5 L1136.25 708.42 L1137.5 708.19 L1138.75 709.39 L1140 709.5 L1141.25 709.35 L1142.5 710.4 L1143.75 709.5 L1145 709.38 L1146.25 710 L1147.5 709.36 L1148.75 711.08 L1150 710.48 L1151.25 712.16 L1152.5 712 L1153.75 711.42 L1155 713.02 L1156.25 710.61 L1157.5 713 L1158.75 711.89 L1160 712.5 L1161.25 713.65 L1162.5 712.86 L1163.75 713.83 L1165 713.75 L1166.25 711.87 L1167.5 713.74 L1168.75 711.63 L1170 712 L1171.25 712.71 L1172.5 710.81 L1173.75 712.13 L1175 711.25 L1175 715.7 Z" fill="#7c46d6" stroke="none"/>
<path d="M958 715.5 L959.22 715.47 L960.44 715.44 L961.67 715.42 L962.89 715.39 L964.11 715.36 L965.33 715.33 L966.56 715.31 L967.78 715.28 L969 715.25 L970.22 715.22 L971.44 715.19 L972.67 715.17 L973.89 715.14 L975.11 715.11 L976.33 715.08 L977.56 715.06 L978.78 715.03 L980 715 L981.25 713.53 L982.5 713.75 L983.75 714.31 L985 713.15 L986.25 713.67 L987.5 711.81 L988.75 713.7 L990 712.43 L991.25 713.55 L992.5 713 L993.75 712.05 L995 712.93 L996.25 711.51 L997.5 712.2 L998.75 711.23 L1000 711.25 L1001.25 711.84 L1002.5 710.31 L1003.75 711.45 L1005 709.24 L1006.25 710 L1007.5 708.63 L1008.75 706.3 L1010 706.25 L1011.25 706.08 L1012.5 702.22 L1013.75 702.5 L1015 702.52 L1016.25 702.4 L1017.5 703 L1018.75 701.09 L1020 698.75 L1021.25 693.75 L1023 701.25 L1024.12 701.23 L1025.25 701.22 L1026.38 701.17 L1027.5 702.5 L1028.75 703.18 L1030 701.29 L1031.25 703.2 L1032.5 702 L1033.75 701.13 L1035 703.6 L1036.25 701.95 L1037.5 703 L1038.75 702.33 L1040 702.27 L1041.25 702.24 L1042.5 702.5 L1043.75 700.91 L1045 702.25 L1046.25 699.67 L1047.5 700 L1048.75 699.08 L1050 695 L1051.25 693.97 L1052.5 693.75 L1053.75 695.73 L1055 696.25 L1056.25 689.19 L1057.5 685 L1058.75 683.32 L1060 680 L1061.25 680.88 L1062.5 683.75 L1063.75 681.8 L1065 678.75 L1066.25 676.87 L1067.5 676.25 L1068.75 673.32 L1070 667.5 L1071.25 663.72 L1072.5 660.97 L1073.75 660 L1075 660.03 L1076.25 663.75 L1077.5 662.47 L1078.75 656.25 L1080 655.52 L1081.25 657.5 L1082.5 655.83 L1083.75 651.25 L1085 650.37 L1086.25 653.75 L1087.5 653.67 L1088.75 651.25 L1090.5 662.5 L1091.58 662.88 L1092.67 667.06 L1093.75 666.25 L1095 659.26 L1096.25 660.72 L1097.5 658.75 L1098.75 661.4 L1100 675 L1101.25 678.04 L1102.5 677.97 L1103.75 681.25 L1105 680.53 L1106.25 680 L1107.5 682.16 L1108.75 686.25 L1110 689.74 L1111.25 688.51 L1112.5 692.5 L1113.75 692.98 L1115 694.13 L1116.25 696.25 L1117.5 698.48 L1118.75 697.48 L1120 700 L1121.25 700.41 L1122.5 697.76 L1123.75 699.15 L1125 697.5 L1126.25 697.44 L1127.5 702.46 L1128.75 702.5 L1130 702.03 L1131.25 703.51 L1132.5 702.5 L1133.75 703.48 L1135 707.5 L1136.25 708.42 L1137.5 708.19 L1138.75 709.39 L1140 709.5 L1141.25 709.35 L1142.5 710.4 L1143.75 709.5 L1145 709.38 L1146.25 710 L1147.5 709.36 L1148.75 711.08 L1150 710.48 L1151.25 712.16 L1152.5 712 L1153.75 711.42 L1155 713.02 L1156.25 710.61 L1157.5 713 L1158.75 711.89 L1160 712.5 L1161.25 713.65 L1162.5 712.86 L1163.75 713.83 L1165 713.75 L1166.25 711.87 L1167.5 713.74 L1168.75 711.63 L1170 712 L1171.25 712.71 L1172.5 710.81 L1173.75 712.13 L1175 711.25" fill="none" stroke="#12042a" stroke-width="1.05" stroke-linejoin="miter" stroke-miterlimit="3"/>
<rect x="957.75" y="446.75" width="217.25" height="268.95" fill="none" stroke="#1f1f1f" stroke-width="1.35"/>
<line x1="957.25" y1="715.7" x2="981.25" y2="715.7" stroke="#0c0c0c" stroke-width="2.2" stroke-linecap="butt"/>
<line x1="957.75" y1="715.7" x2="1175" y2="715.7" stroke="#241a33" stroke-width="1.5" stroke-linecap="butt"/>
<line x1="951.45" y1="715.4" x2="957.75" y2="715.4" stroke="#1f1f1f" stroke-width="1.3" stroke-linecap="butt"/>
<line x1="954.15" y1="705.33" x2="957.75" y2="705.33" stroke="#1f1f1f" stroke-width="1.25" stroke-linecap="butt"/>
<line x1="954.15" y1="695.25" x2="957.75" y2="695.25" stroke="#1f1f1f" stroke-width="1.25" stroke-linecap="butt"/>
<line x1="954.15" y1="685.18" x2="957.75" y2="685.18" stroke="#1f1f1f" stroke-width="1.25" stroke-linecap="butt"/>
<line x1="954.15" y1="675.1" x2="957.75" y2="675.1" stroke="#1f1f1f" stroke-width="1.25" stroke-linecap="butt"/>
<line x1="951.45" y1="661.67" x2="957.75" y2="661.67" stroke="#1f1f1f" stroke-width="1.3" stroke-linecap="butt"/>
<line x1="954.15" y1="651.6" x2="957.75" y2="651.6" stroke="#1f1f1f" stroke-width="1.25" stroke-linecap="butt"/>
<line x1="954.15" y1="641.52" x2="957.75" y2="641.52" stroke="#1f1f1f" stroke-width="1.25" stroke-linecap="butt"/>
<line x1="954.15" y1="631.45" x2="957.75" y2="631.45" stroke="#1f1f1f" stroke-width="1.25" stroke-linecap="butt"/>
<line x1="954.15" y1="621.37" x2="957.75" y2="621.37" stroke="#1f1f1f" stroke-width="1.25" stroke-linecap="butt"/>
<line x1="951.45" y1="607.94" x2="957.75" y2="607.94" stroke="#1f1f1f" stroke-width="1.3" stroke-linecap="butt"/>
<line x1="954.15" y1="597.87" x2="957.75" y2="597.87" stroke="#1f1f1f" stroke-width="1.25" stroke-linecap="butt"/>
<line x1="954.15" y1="587.79" x2="957.75" y2="587.79" stroke="#1f1f1f" stroke-width="1.25" stroke-linecap="butt"/>
<line x1="954.15" y1="577.72" x2="957.75" y2="577.72" stroke="#1f1f1f" stroke-width="1.25" stroke-linecap="butt"/>
<line x1="954.15" y1="567.64" x2="957.75" y2="567.64" stroke="#1f1f1f" stroke-width="1.25" stroke-linecap="butt"/>
<line x1="951.45" y1="554.21" x2="957.75" y2="554.21" stroke="#1f1f1f" stroke-width="1.3" stroke-linecap="butt"/>
<line x1="954.15" y1="544.14" x2="957.75" y2="544.14" stroke="#1f1f1f" stroke-width="1.25" stroke-linecap="butt"/>
<line x1="954.15" y1="534.06" x2="957.75" y2="534.06" stroke="#1f1f1f" stroke-width="1.25" stroke-linecap="butt"/>
<line x1="954.15" y1="523.99" x2="957.75" y2="523.99" stroke="#1f1f1f" stroke-width="1.25" stroke-linecap="butt"/>
<line x1="954.15" y1="513.91" x2="957.75" y2="513.91" stroke="#1f1f1f" stroke-width="1.25" stroke-linecap="butt"/>
<line x1="951.45" y1="500.48" x2="957.75" y2="500.48" stroke="#1f1f1f" stroke-width="1.3" stroke-linecap="butt"/>
<line x1="954.15" y1="490.41" x2="957.75" y2="490.41" stroke="#1f1f1f" stroke-width="1.25" stroke-linecap="butt"/>
<line x1="954.15" y1="480.33" x2="957.75" y2="480.33" stroke="#1f1f1f" stroke-width="1.25" stroke-linecap="butt"/>
<line x1="954.15" y1="470.26" x2="957.75" y2="470.26" stroke="#1f1f1f" stroke-width="1.25" stroke-linecap="butt"/>
<line x1="954.15" y1="460.18" x2="957.75" y2="460.18" stroke="#1f1f1f" stroke-width="1.25" stroke-linecap="butt"/>
<line x1="951.45" y1="446.75" x2="957.75" y2="446.75" stroke="#1f1f1f" stroke-width="1.3" stroke-linecap="butt"/>
<text x="946" y="715.1" font-family='"Liberation Sans", sans-serif' font-size="11.7" font-weight="normal" text-anchor="middle" fill="#1c1c1c" transform="rotate(-90 946 715.1)" stroke="#1c1c1c" stroke-width="0.25">0</text>
<text x="947.2" y="660.67" font-family='"Liberation Sans", sans-serif' font-size="11.7" font-weight="normal" text-anchor="middle" fill="#1c1c1c" transform="rotate(-90 947.2 660.67)" stroke="#1c1c1c" stroke-width="0.25">40</text>
<text x="947.2" y="606.94" font-family='"Liberation Sans", sans-serif' font-size="11.7" font-weight="normal" text-anchor="middle" fill="#1c1c1c" transform="rotate(-90 947.2 606.94)" stroke="#1c1c1c" stroke-width="0.25">80</text>
<text x="947.2" y="552.91" font-family='"Liberation Sans", sans-serif' font-size="11.7" font-weight="normal" text-anchor="middle" fill="#1c1c1c" transform="rotate(-90 947.2 552.91)" stroke="#1c1c1c" stroke-width="0.25">120</text>
<text x="947.2" y="499.18" font-family='"Liberation Sans", sans-serif' font-size="11.7" font-weight="normal" text-anchor="middle" fill="#1c1c1c" transform="rotate(-90 947.2 499.18)" stroke="#1c1c1c" stroke-width="0.25">160</text>
<text x="947.2" y="446.95" font-family='"Liberation Sans", sans-serif' font-size="11.7" font-weight="normal" text-anchor="middle" fill="#1c1c1c" transform="rotate(-90 947.2 446.95)" stroke="#1c1c1c" stroke-width="0.25">200</text>
<text x="934.8" y="582.83" font-family='"Liberation Sans", sans-serif' font-size="12" font-weight="normal" text-anchor="middle" fill="#1c1c1c" transform="rotate(-90 934.8 582.83)" stroke="#1c1c1c" stroke-width="0.25">Counts</text>
<line x1="957.75" y1="715.7" x2="957.75" y2="722.1" stroke="#1f1f1f" stroke-width="1.3" stroke-linecap="butt"/>
<line x1="974.1" y1="715.7" x2="974.1" y2="719.4" stroke="#1f1f1f" stroke-width="1.1" stroke-linecap="butt"/>
<line x1="983.66" y1="715.7" x2="983.66" y2="719.4" stroke="#1f1f1f" stroke-width="1.1" stroke-linecap="butt"/>
<line x1="990.45" y1="715.7" x2="990.45" y2="719.4" stroke="#1f1f1f" stroke-width="1.1" stroke-linecap="butt"/>
<line x1="995.71" y1="715.7" x2="995.71" y2="719.4" stroke="#1f1f1f" stroke-width="1.1" stroke-linecap="butt"/>
<line x1="1000.01" y1="715.7" x2="1000.01" y2="719.4" stroke="#1f1f1f" stroke-width="1.1" stroke-linecap="butt"/>
<line x1="1003.65" y1="715.7" x2="1003.65" y2="719.4" stroke="#1f1f1f" stroke-width="1.1" stroke-linecap="butt"/>
<line x1="1006.8" y1="715.7" x2="1006.8" y2="719.4" stroke="#1f1f1f" stroke-width="1.1" stroke-linecap="butt"/>
<line x1="1009.58" y1="715.7" x2="1009.58" y2="719.4" stroke="#1f1f1f" stroke-width="1.1" stroke-linecap="butt"/>
<text x="956.75" y="735.4" font-family='"Liberation Sans", sans-serif' font-size="11.2" text-anchor="middle" fill="#1c1c1c" stroke="#1c1c1c" stroke-width="0.25">10<tspan dy="-5.9" font-size="10.4">0</tspan></text>
<line x1="1012.06" y1="715.7" x2="1012.06" y2="722.1" stroke="#1f1f1f" stroke-width="1.3" stroke-linecap="butt"/>
<line x1="1028.41" y1="715.7" x2="1028.41" y2="719.4" stroke="#1f1f1f" stroke-width="1.1" stroke-linecap="butt"/>
<line x1="1037.98" y1="715.7" x2="1037.98" y2="719.4" stroke="#1f1f1f" stroke-width="1.1" stroke-linecap="butt"/>
<line x1="1044.76" y1="715.7" x2="1044.76" y2="719.4" stroke="#1f1f1f" stroke-width="1.1" stroke-linecap="butt"/>
<line x1="1050.03" y1="715.7" x2="1050.03" y2="719.4" stroke="#1f1f1f" stroke-width="1.1" stroke-linecap="butt"/>
<line x1="1054.33" y1="715.7" x2="1054.33" y2="719.4" stroke="#1f1f1f" stroke-width="1.1" stroke-linecap="butt"/>
<line x1="1057.96" y1="715.7" x2="1057.96" y2="719.4" stroke="#1f1f1f" stroke-width="1.1" stroke-linecap="butt"/>
<line x1="1061.11" y1="715.7" x2="1061.11" y2="719.4" stroke="#1f1f1f" stroke-width="1.1" stroke-linecap="butt"/>
<line x1="1063.89" y1="715.7" x2="1063.89" y2="719.4" stroke="#1f1f1f" stroke-width="1.1" stroke-linecap="butt"/>
<text x="1011.06" y="735.4" font-family='"Liberation Sans", sans-serif' font-size="11.2" text-anchor="middle" fill="#1c1c1c" stroke="#1c1c1c" stroke-width="0.25">10<tspan dy="-5.9" font-size="10.4">1</tspan></text>
<line x1="1066.38" y1="715.7" x2="1066.38" y2="722.1" stroke="#1f1f1f" stroke-width="1.3" stroke-linecap="butt"/>
<line x1="1082.72" y1="715.7" x2="1082.72" y2="719.4" stroke="#1f1f1f" stroke-width="1.1" stroke-linecap="butt"/>
<line x1="1092.29" y1="715.7" x2="1092.29" y2="719.4" stroke="#1f1f1f" stroke-width="1.1" stroke-linecap="butt"/>
<line x1="1099.07" y1="715.7" x2="1099.07" y2="719.4" stroke="#1f1f1f" stroke-width="1.1" stroke-linecap="butt"/>
<line x1="1104.34" y1="715.7" x2="1104.34" y2="719.4" stroke="#1f1f1f" stroke-width="1.1" stroke-linecap="butt"/>
<line x1="1108.64" y1="715.7" x2="1108.64" y2="719.4" stroke="#1f1f1f" stroke-width="1.1" stroke-linecap="butt"/>
<line x1="1112.27" y1="715.7" x2="1112.27" y2="719.4" stroke="#1f1f1f" stroke-width="1.1" stroke-linecap="butt"/>
<line x1="1115.42" y1="715.7" x2="1115.42" y2="719.4" stroke="#1f1f1f" stroke-width="1.1" stroke-linecap="butt"/>
<line x1="1118.2" y1="715.7" x2="1118.2" y2="719.4" stroke="#1f1f1f" stroke-width="1.1" stroke-linecap="butt"/>
<text x="1065.38" y="735.4" font-family='"Liberation Sans", sans-serif' font-size="11.2" text-anchor="middle" fill="#1c1c1c" stroke="#1c1c1c" stroke-width="0.25">10<tspan dy="-5.9" font-size="10.4">2</tspan></text>
<line x1="1120.69" y1="715.7" x2="1120.69" y2="722.1" stroke="#1f1f1f" stroke-width="1.3" stroke-linecap="butt"/>
<line x1="1137.04" y1="715.7" x2="1137.04" y2="719.4" stroke="#1f1f1f" stroke-width="1.1" stroke-linecap="butt"/>
<line x1="1146.6" y1="715.7" x2="1146.6" y2="719.4" stroke="#1f1f1f" stroke-width="1.1" stroke-linecap="butt"/>
<line x1="1153.39" y1="715.7" x2="1153.39" y2="719.4" stroke="#1f1f1f" stroke-width="1.1" stroke-linecap="butt"/>
<line x1="1158.65" y1="715.7" x2="1158.65" y2="719.4" stroke="#1f1f1f" stroke-width="1.1" stroke-linecap="butt"/>
<line x1="1162.95" y1="715.7" x2="1162.95" y2="719.4" stroke="#1f1f1f" stroke-width="1.1" stroke-linecap="butt"/>
<line x1="1166.59" y1="715.7" x2="1166.59" y2="719.4" stroke="#1f1f1f" stroke-width="1.1" stroke-linecap="butt"/>
<line x1="1169.74" y1="715.7" x2="1169.74" y2="719.4" stroke="#1f1f1f" stroke-width="1.1" stroke-linecap="butt"/>
<line x1="1172.51" y1="715.7" x2="1172.51" y2="719.4" stroke="#1f1f1f" stroke-width="1.1" stroke-linecap="butt"/>
<text x="1119.69" y="735.4" font-family='"Liberation Sans", sans-serif' font-size="11.2" text-anchor="middle" fill="#1c1c1c" stroke="#1c1c1c" stroke-width="0.25">10<tspan dy="-5.9" font-size="10.4">3</tspan></text>
<line x1="1175" y1="715.7" x2="1175" y2="722.1" stroke="#1f1f1f" stroke-width="1.3" stroke-linecap="butt"/>
<text x="1174" y="735.4" font-family='"Liberation Sans", sans-serif' font-size="11.2" text-anchor="middle" fill="#1c1c1c" stroke="#1c1c1c" stroke-width="0.25">10<tspan dy="-5.9" font-size="10.4">4</tspan></text>
<text x="1063.5" y="747.6" font-family='"Liberation Sans", sans-serif' font-size="10.9" font-weight="normal" text-anchor="middle" fill="#1c1c1c" stroke="#1c1c1c" stroke-width="0.25">FL1</text>
<line x1="1046.25" y1="543" x2="1175" y2="543" stroke="#1f1f1f" stroke-width="1.35" stroke-linecap="butt"/>
<line x1="1046.25" y1="531.8" x2="1046.25" y2="554.2" stroke="#1f1f1f" stroke-width="1.35" stroke-linecap="butt"/>
<text x="1105" y="525.8" font-family='"Liberation Sans", sans-serif' font-size="12" font-weight="normal" text-anchor="middle" fill="#1c1c1c" stroke="#1c1c1c" stroke-width="0.2">M1</text>
</g>
<g id="hist5">
<path d="M1238 722.6 L1238 722.6 L1239.24 722.4 L1240.47 722.4 L1241.71 722.4 L1242.94 722.4 L1244.18 722.4 L1245.42 722.4 L1246.65 722.4 L1247.89 722.4 L1249.12 722.4 L1250.36 722.4 L1251.6 722.4 L1252.83 722.4 L1254.07 722.4 L1255.31 722.39 L1256.54 722.37 L1257.78 722.36 L1259.01 722.34 L1260.25 722.33 L1261.49 722.31 L1262.72 722.29 L1263.96 722.28 L1265.19 722.26 L1266.43 722.25 L1267.67 722.23 L1268.9 722.22 L1270.14 722.2 L1271.38 722.19 L1272.61 722.17 L1273.85 722.16 L1275.08 722.14 L1276.32 722.13 L1277.56 722.11 L1278.79 722.1 L1280.03 722.08 L1281.26 722.07 L1282.5 722.05 L1283.75 720.04 L1285 719.85 L1286.25 720.71 L1287.5 719.71 L1288.75 720.68 L1290 720.4 L1291.25 719.15 L1292.5 719.31 L1293.75 718.2 L1295 716.71 L1296.25 717.12 L1297.5 714.78 L1298.75 715.85 L1300 713.75 L1301.25 710.62 L1302.5 712.21 L1303.75 707.97 L1305 707.5 L1306.25 707.43 L1307.5 700.22 L1308.75 703.54 L1310 700 L1311.25 696.33 L1312.5 698.33 L1313.75 695 L1315 689.25 L1316.25 687.5 L1317.5 687.22 L1318.75 680.1 L1320 680 L1321.25 686.04 L1322.5 687.5 L1323.75 686.73 L1325 690.63 L1326.25 690 L1327.5 690.11 L1328.75 693.39 L1330 693.75 L1331.25 694.62 L1332.5 698.57 L1333.75 696.49 L1335 700 L1336.33 703.07 L1337.67 704.39 L1339 707.5 L1340.25 709.17 L1341.5 708.51 L1342.75 711.6 L1344 711.25 L1345.25 710.91 L1346.5 711.83 L1347.75 710.74 L1349 711.25 L1350.25 712.7 L1351.5 711.5 L1352.75 713.31 L1354 712.5 L1355.25 712.65 L1356.5 714.38 L1357.75 714.03 L1359 715 L1360.25 715.07 L1361.5 713.56 L1362.75 714.93 L1364 712.48 L1365.25 714 L1366.5 712.5 L1367.75 709.3 L1369 709.92 L1370.25 706.4 L1371.5 705 L1372.75 707.54 L1374 704.71 L1375.25 708.75 L1376.5 709.8 L1377.75 707.79 L1379 709.36 L1380.25 708.75 L1381.5 706.38 L1382.75 706.34 L1384 703.75 L1385.25 700.78 L1386.5 700.26 L1387.75 697.5 L1389 694.65 L1390.25 694.92 L1391.5 693.75 L1392.75 686.63 L1394 683.75 L1395.25 685.06 L1396.5 682.04 L1397.75 682.5 L1399 681.64 L1400.25 675.75 L1401.5 675 L1402.75 667.5 L1404 669.4 L1405.25 668.85 L1406.5 671.25 L1407.75 668.3 L1409 662.5 L1410.75 653.75 L1411.75 653.12 L1412.75 660 L1414 662.34 L1415.25 657.45 L1416.5 661.25 L1417.75 660.05 L1419 652.5 L1420.25 650.52 L1421.5 657.5 L1422.75 666.18 L1424 667.5 L1425.25 668.67 L1426.5 675 L1427.75 682.39 L1429 685 L1430.25 686.87 L1431.5 692.5 L1432.75 692.72 L1434 691.22 L1435.25 695 L1436.5 699.84 L1437.75 698.26 L1439 702.5 L1440.25 705.23 L1441.5 704.99 L1442.75 707.5 L1444 709.26 L1445.25 708.84 L1446.5 711.25 L1447.75 712.35 L1449 710.79 L1450.25 711.25 L1451.5 713.72 L1452.75 713.98 L1454 716.27 L1455.25 718.1 L1456.5 716.99 L1457.75 718.87 L1459 719.02 L1460.25 718.12 L1461.5 720.74 L1462.75 720.4 L1462.75 722.6 Z" fill="#7c46d6" stroke="none"/>
<path d="M1238 722.6 L1239.24 722.4 L1240.47 722.4 L1241.71 722.4 L1242.94 722.4 L1244.18 722.4 L1245.42 722.4 L1246.65 722.4 L1247.89 722.4 L1249.12 722.4 L1250.36 722.4 L1251.6 722.4 L1252.83 722.4 L1254.07 722.4 L1255.31 722.39 L1256.54 722.37 L1257.78 722.36 L1259.01 722.34 L1260.25 722.33 L1261.49 722.31 L1262.72 722.29 L1263.96 722.28 L1265.19 722.26 L1266.43 722.25 L1267.67 722.23 L1268.9 722.22 L1270.14 722.2 L1271.38 722.19 L1272.61 722.17 L1273.85 722.16 L1275.08 722.14 L1276.32 722.13 L1277.56 722.11 L1278.79 722.1 L1280.03 722.08 L1281.26 722.07 L1282.5 722.05 L1283.75 720.04 L1285 719.85 L1286.25 720.71 L1287.5 719.71 L1288.75 720.68 L1290 720.4 L1291.25 719.15 L1292.5 719.31 L1293.75 718.2 L1295 716.71 L1296.25 717.12 L1297.5 714.78 L1298.75 715.85 L1300 713.75 L1301.25 710.62 L1302.5 712.21 L1303.75 707.97 L1305 707.5 L1306.25 707.43 L1307.5 700.22 L1308.75 703.54 L1310 700 L1311.25 696.33 L1312.5 698.33 L1313.75 695 L1315 689.25 L1316.25 687.5 L1317.5 687.22 L1318.75 680.1 L1320 680 L1321.25 686.04 L1322.5 687.5 L1323.75 686.73 L1325 690.63 L1326.25 690 L1327.5 690.11 L1328.75 693.39 L1330 693.75 L1331.25 694.62 L1332.5 698.57 L1333.75 696.49 L1335 700 L1336.33 703.07 L1337.67 704.39 L1339 707.5 L1340.25 709.17 L1341.5 708.51 L1342.75 711.6 L1344 711.25 L1345.25 710.91 L1346.5 711.83 L1347.75 710.74 L1349 711.25 L1350.25 712.7 L1351.5 711.5 L1352.75 713.31 L1354 712.5 L1355.25 712.65 L1356.5 714.38 L1357.75 714.03 L1359 715 L1360.25 715.07 L1361.5 713.56 L1362.75 714.93 L1364 712.48 L1365.25 714 L1366.5 712.5 L1367.75 709.3 L1369 709.92 L1370.25 706.4 L1371.5 705 L1372.75 707.54 L1374 704.71 L1375.25 708.75 L1376.5 709.8 L1377.75 707.79 L1379 709.36 L1380.25 708.75 L1381.5 706.38 L1382.75 706.34 L1384 703.75 L1385.25 700.78 L1386.5 700.26 L1387.75 697.5 L1389 694.65 L1390.25 694.92 L1391.5 693.75 L1392.75 686.63 L1394 683.75 L1395.25 685.06 L1396.5 682.04 L1397.75 682.5 L1399 681.64 L1400.25 675.75 L1401.5 675 L1402.75 667.5 L1404 669.4 L1405.25 668.85 L1406.5 671.25 L1407.75 668.3 L1409 662.5 L1410.75 653.75 L1411.75 653.12 L1412.75 660 L1414 662.34 L1415.25 657.45 L1416.5 661.25 L1417.75 660.05 L1419 652.5 L1420.25 650.52 L1421.5 657.5 L1422.75 666.18 L1424 667.5 L1425.25 668.67 L1426.5 675 L1427.75 682.39 L1429 685 L1430.25 686.87 L1431.5 692.5 L1432.75 692.72 L1434 691.22 L1435.25 695 L1436.5 699.84 L1437.75 698.26 L1439 702.5 L1440.25 705.23 L1441.5 704.99 L1442.75 707.5 L1444 709.26 L1445.25 708.84 L1446.5 711.25 L1447.75 712.35 L1449 710.79 L1450.25 711.25 L1451.5 713.72 L1452.75 713.98 L1454 716.27 L1455.25 718.1 L1456.5 716.99 L1457.75 718.87 L1459 719.02 L1460.25 718.12 L1461.5 720.74 L1462.75 720.4" fill="none" stroke="#12042a" stroke-width="1.05" stroke-linejoin="miter" stroke-miterlimit="3"/>
<rect x="1238" y="443.25" width="224.75" height="279.35" fill="none" stroke="#1f1f1f" stroke-width="1.35"/>
<line x1="1237.5" y1="722.6" x2="1283.75" y2="722.6" stroke="#0c0c0c" stroke-width="2.2" stroke-linecap="butt"/>
<line x1="1238" y1="722.6" x2="1462.75" y2="722.6" stroke="#241a33" stroke-width="1.5" stroke-linecap="butt"/>
<line x1="1231.7" y1="722.3" x2="1238" y2="722.3" stroke="#1f1f1f" stroke-width="1.3" stroke-linecap="butt"/>
<line x1="1234.4" y1="711.84" x2="1238" y2="711.84" stroke="#1f1f1f" stroke-width="1.25" stroke-linecap="butt"/>
<line x1="1234.4" y1="701.37" x2="1238" y2="701.37" stroke="#1f1f1f" stroke-width="1.25" stroke-linecap="butt"/>
<line x1="1234.4" y1="690.91" x2="1238" y2="690.91" stroke="#1f1f1f" stroke-width="1.25" stroke-linecap="butt"/>
<line x1="1234.4" y1="680.44" x2="1238" y2="680.44" stroke="#1f1f1f" stroke-width="1.25" stroke-linecap="butt"/>
<line x1="1231.7" y1="666.49" x2="1238" y2="666.49" stroke="#1f1f1f" stroke-width="1.3" stroke-linecap="butt"/>
<line x1="1234.4" y1="656.03" x2="1238" y2="656.03" stroke="#1f1f1f" stroke-width="1.25" stroke-linecap="butt"/>
<line x1="1234.4" y1="645.56" x2="1238" y2="645.56" stroke="#1f1f1f" stroke-width="1.25" stroke-linecap="butt"/>
<line x1="1234.4" y1="635.1" x2="1238" y2="635.1" stroke="#1f1f1f" stroke-width="1.25" stroke-linecap="butt"/>
<line x1="1234.4" y1="624.63" x2="1238" y2="624.63" stroke="#1f1f1f" stroke-width="1.25" stroke-linecap="butt"/>
<line x1="1231.7" y1="610.68" x2="1238" y2="610.68" stroke="#1f1f1f" stroke-width="1.3" stroke-linecap="butt"/>
<line x1="1234.4" y1="600.22" x2="1238" y2="600.22" stroke="#1f1f1f" stroke-width="1.25" stroke-linecap="butt"/>
<line x1="1234.4" y1="589.75" x2="1238" y2="589.75" stroke="#1f1f1f" stroke-width="1.25" stroke-linecap="butt"/>
<line x1="1234.4" y1="579.29" x2="1238" y2="579.29" stroke="#1f1f1f" stroke-width="1.25" stroke-linecap="butt"/>
<line x1="1234.4" y1="568.82" x2="1238" y2="568.82" stroke="#1f1f1f" stroke-width="1.25" stroke-linecap="butt"/>
<line x1="1231.7" y1="554.87" x2="1238" y2="554.87" stroke="#1f1f1f" stroke-width="1.3" stroke-linecap="butt"/>
<line x1="1234.4" y1="544.41" x2="1238" y2="544.41" stroke="#1f1f1f" stroke-width="1.25" stroke-linecap="butt"/>
<line x1="1234.4" y1="533.94" x2="1238" y2="533.94" stroke="#1f1f1f" stroke-width="1.25" stroke-linecap="butt"/>
<line x1="1234.4" y1="523.48" x2="1238" y2="523.48" stroke="#1f1f1f" stroke-width="1.25" stroke-linecap="butt"/>
<line x1="1234.4" y1="513.01" x2="1238" y2="513.01" stroke="#1f1f1f" stroke-width="1.25" stroke-linecap="butt"/>
<line x1="1231.7" y1="499.06" x2="1238" y2="499.06" stroke="#1f1f1f" stroke-width="1.3" stroke-linecap="butt"/>
<line x1="1234.4" y1="488.6" x2="1238" y2="488.6" stroke="#1f1f1f" stroke-width="1.25" stroke-linecap="butt"/>
<line x1="1234.4" y1="478.13" x2="1238" y2="478.13" stroke="#1f1f1f" stroke-width="1.25" stroke-linecap="butt"/>
<line x1="1234.4" y1="467.67" x2="1238" y2="467.67" stroke="#1f1f1f" stroke-width="1.25" stroke-linecap="butt"/>
<line x1="1234.4" y1="457.2" x2="1238" y2="457.2" stroke="#1f1f1f" stroke-width="1.25" stroke-linecap="butt"/>
<line x1="1231.7" y1="443.25" x2="1238" y2="443.25" stroke="#1f1f1f" stroke-width="1.3" stroke-linecap="butt"/>
<text x="1226.25" y="722" font-family='"Liberation Sans", sans-serif' font-size="11.7" font-weight="normal" text-anchor="middle" fill="#1c1c1c" transform="rotate(-90 1226.25 722)" stroke="#1c1c1c" stroke-width="0.25">0</text>
<text x="1227.45" y="665.49" font-family='"Liberation Sans", sans-serif' font-size="11.7" font-weight="normal" text-anchor="middle" fill="#1c1c1c" transform="rotate(-90 1227.45 665.49)" stroke="#1c1c1c" stroke-width="0.25">40</text>
<text x="1227.45" y="609.68" font-family='"Liberation Sans", sans-serif' font-size="11.7" font-weight="normal" text-anchor="middle" fill="#1c1c1c" transform="rotate(-90 1227.45 609.68)" stroke="#1c1c1c" stroke-width="0.25">80</text>
<text x="1227.45" y="553.57" font-family='"Liberation Sans", sans-serif' font-size="11.7" font-weight="normal" text-anchor="middle" fill="#1c1c1c" transform="rotate(-90 1227.45 553.57)" stroke="#1c1c1c" stroke-width="0.25">120</text>
<text x="1227.45" y="497.76" font-family='"Liberation Sans", sans-serif' font-size="11.7" font-weight="normal" text-anchor="middle" fill="#1c1c1c" transform="rotate(-90 1227.45 497.76)" stroke="#1c1c1c" stroke-width="0.25">160</text>
<text x="1227.45" y="443.45" font-family='"Liberation Sans", sans-serif' font-size="11.7" font-weight="normal" text-anchor="middle" fill="#1c1c1c" transform="rotate(-90 1227.45 443.45)" stroke="#1c1c1c" stroke-width="0.25">200</text>
<text x="1214.3" y="584.52" font-family='"Liberation Sans", sans-serif' font-size="12" font-weight="normal" text-anchor="middle" fill="#1c1c1c" transform="rotate(-90 1214.3 584.52)" stroke="#1c1c1c" stroke-width="0.25">Counts</text>
<line x1="1238" y1="722.6" x2="1238" y2="729" stroke="#1f1f1f" stroke-width="1.3" stroke-linecap="butt"/>
<line x1="1254.91" y1="722.6" x2="1254.91" y2="726.3" stroke="#1f1f1f" stroke-width="1.1" stroke-linecap="butt"/>
<line x1="1264.81" y1="722.6" x2="1264.81" y2="726.3" stroke="#1f1f1f" stroke-width="1.1" stroke-linecap="butt"/>
<line x1="1271.83" y1="722.6" x2="1271.83" y2="726.3" stroke="#1f1f1f" stroke-width="1.1" stroke-linecap="butt"/>
<line x1="1277.27" y1="722.6" x2="1277.27" y2="726.3" stroke="#1f1f1f" stroke-width="1.1" stroke-linecap="butt"/>
<line x1="1281.72" y1="722.6" x2="1281.72" y2="726.3" stroke="#1f1f1f" stroke-width="1.1" stroke-linecap="butt"/>
<line x1="1285.48" y1="722.6" x2="1285.48" y2="726.3" stroke="#1f1f1f" stroke-width="1.1" stroke-linecap="butt"/>
<line x1="1288.74" y1="722.6" x2="1288.74" y2="726.3" stroke="#1f1f1f" stroke-width="1.1" stroke-linecap="butt"/>
<line x1="1291.62" y1="722.6" x2="1291.62" y2="726.3" stroke="#1f1f1f" stroke-width="1.1" stroke-linecap="butt"/>
<text x="1237" y="742.8" font-family='"Liberation Sans", sans-serif' font-size="11.2" text-anchor="middle" fill="#1c1c1c" stroke="#1c1c1c" stroke-width="0.25">10<tspan dy="-5.9" font-size="10.4">0</tspan></text>
<line x1="1294.19" y1="722.6" x2="1294.19" y2="729" stroke="#1f1f1f" stroke-width="1.3" stroke-linecap="butt"/>
<line x1="1311.1" y1="722.6" x2="1311.1" y2="726.3" stroke="#1f1f1f" stroke-width="1.1" stroke-linecap="butt"/>
<line x1="1321" y1="722.6" x2="1321" y2="726.3" stroke="#1f1f1f" stroke-width="1.1" stroke-linecap="butt"/>
<line x1="1328.02" y1="722.6" x2="1328.02" y2="726.3" stroke="#1f1f1f" stroke-width="1.1" stroke-linecap="butt"/>
<line x1="1333.46" y1="722.6" x2="1333.46" y2="726.3" stroke="#1f1f1f" stroke-width="1.1" stroke-linecap="butt"/>
<line x1="1337.91" y1="722.6" x2="1337.91" y2="726.3" stroke="#1f1f1f" stroke-width="1.1" stroke-linecap="butt"/>
<line x1="1341.67" y1="722.6" x2="1341.67" y2="726.3" stroke="#1f1f1f" stroke-width="1.1" stroke-linecap="butt"/>
<line x1="1344.93" y1="722.6" x2="1344.93" y2="726.3" stroke="#1f1f1f" stroke-width="1.1" stroke-linecap="butt"/>
<line x1="1347.8" y1="722.6" x2="1347.8" y2="726.3" stroke="#1f1f1f" stroke-width="1.1" stroke-linecap="butt"/>
<text x="1293.19" y="742.8" font-family='"Liberation Sans", sans-serif' font-size="11.2" text-anchor="middle" fill="#1c1c1c" stroke="#1c1c1c" stroke-width="0.25">10<tspan dy="-5.9" font-size="10.4">1</tspan></text>
<line x1="1350.38" y1="722.6" x2="1350.38" y2="729" stroke="#1f1f1f" stroke-width="1.3" stroke-linecap="butt"/>
<line x1="1367.29" y1="722.6" x2="1367.29" y2="726.3" stroke="#1f1f1f" stroke-width="1.1" stroke-linecap="butt"/>
<line x1="1377.18" y1="722.6" x2="1377.18" y2="726.3" stroke="#1f1f1f" stroke-width="1.1" stroke-linecap="butt"/>
<line x1="1384.2" y1="722.6" x2="1384.2" y2="726.3" stroke="#1f1f1f" stroke-width="1.1" stroke-linecap="butt"/>
<line x1="1389.65" y1="722.6" x2="1389.65" y2="726.3" stroke="#1f1f1f" stroke-width="1.1" stroke-linecap="butt"/>
<line x1="1394.1" y1="722.6" x2="1394.1" y2="726.3" stroke="#1f1f1f" stroke-width="1.1" stroke-linecap="butt"/>
<line x1="1397.86" y1="722.6" x2="1397.86" y2="726.3" stroke="#1f1f1f" stroke-width="1.1" stroke-linecap="butt"/>
<line x1="1401.12" y1="722.6" x2="1401.12" y2="726.3" stroke="#1f1f1f" stroke-width="1.1" stroke-linecap="butt"/>
<line x1="1403.99" y1="722.6" x2="1403.99" y2="726.3" stroke="#1f1f1f" stroke-width="1.1" stroke-linecap="butt"/>
<text x="1349.38" y="742.8" font-family='"Liberation Sans", sans-serif' font-size="11.2" text-anchor="middle" fill="#1c1c1c" stroke="#1c1c1c" stroke-width="0.25">10<tspan dy="-5.9" font-size="10.4">2</tspan></text>
<line x1="1406.56" y1="722.6" x2="1406.56" y2="729" stroke="#1f1f1f" stroke-width="1.3" stroke-linecap="butt"/>
<line x1="1423.48" y1="722.6" x2="1423.48" y2="726.3" stroke="#1f1f1f" stroke-width="1.1" stroke-linecap="butt"/>
<line x1="1433.37" y1="722.6" x2="1433.37" y2="726.3" stroke="#1f1f1f" stroke-width="1.1" stroke-linecap="butt"/>
<line x1="1440.39" y1="722.6" x2="1440.39" y2="726.3" stroke="#1f1f1f" stroke-width="1.1" stroke-linecap="butt"/>
<line x1="1445.84" y1="722.6" x2="1445.84" y2="726.3" stroke="#1f1f1f" stroke-width="1.1" stroke-linecap="butt"/>
<line x1="1450.28" y1="722.6" x2="1450.28" y2="726.3" stroke="#1f1f1f" stroke-width="1.1" stroke-linecap="butt"/>
<line x1="1454.05" y1="722.6" x2="1454.05" y2="726.3" stroke="#1f1f1f" stroke-width="1.1" stroke-linecap="butt"/>
<line x1="1457.3" y1="722.6" x2="1457.3" y2="726.3" stroke="#1f1f1f" stroke-width="1.1" stroke-linecap="butt"/>
<line x1="1460.18" y1="722.6" x2="1460.18" y2="726.3" stroke="#1f1f1f" stroke-width="1.1" stroke-linecap="butt"/>
<text x="1405.56" y="742.8" font-family='"Liberation Sans", sans-serif' font-size="11.2" text-anchor="middle" fill="#1c1c1c" stroke="#1c1c1c" stroke-width="0.25">10<tspan dy="-5.9" font-size="10.4">3</tspan></text>
<line x1="1462.75" y1="722.6" x2="1462.75" y2="729" stroke="#1f1f1f" stroke-width="1.3" stroke-linecap="butt"/>
<text x="1461.75" y="742.8" font-family='"Liberation Sans", sans-serif' font-size="11.2" text-anchor="middle" fill="#1c1c1c" stroke="#1c1c1c" stroke-width="0.25">10<tspan dy="-5.9" font-size="10.4">4</tspan></text>
<text x="1347.4" y="755.3" font-family='"Liberation Sans", sans-serif' font-size="10.9" font-weight="normal" text-anchor="middle" fill="#1c1c1c" stroke="#1c1c1c" stroke-width="0.25">FL1</text>
<line x1="1329.5" y1="543.25" x2="1462.75" y2="543.25" stroke="#1f1f1f" stroke-width="1.35" stroke-linecap="butt"/>
<line x1="1329.5" y1="532.05" x2="1329.5" y2="554.45" stroke="#1f1f1f" stroke-width="1.35" stroke-linecap="butt"/>
<text x="1390.4" y="525" font-family='"Liberation Sans", sans-serif' font-size="12" font-weight="normal" text-anchor="middle" fill="#1c1c1c" stroke="#1c1c1c" stroke-width="0.2">M1</text>
</g>
<g id="hist6">
<path d="M1534 720.7 L1534 720.7 L1535.25 720.5 L1536.5 720.5 L1537.75 720.5 L1539 720.5 L1540.25 720.5 L1541.5 720.5 L1542.75 720.5 L1544 720.5 L1545.25 720.5 L1546.5 720.5 L1547.75 720.5 L1549 720.5 L1550.25 720.5 L1551.5 720.5 L1552.75 720.5 L1554 720.5 L1555.25 720.5 L1556.5 720.5 L1557.75 720.5 L1559 720.5 L1560.25 720.5 L1561.5 720.5 L1562.75 720.5 L1564 720.5 L1565.25 720.5 L1566.5 720.5 L1567.75 720.5 L1569 720.5 L1570.25 720.5 L1571.5 720.5 L1572.75 720.5 L1574 720.5 L1575.25 720.7 L1576.5 718.14 L1577.75 717.35 L1579 717.47 L1580.25 715.37 L1581.5 717.76 L1582.75 715.98 L1584 717.29 L1585.25 715.92 L1586.5 716.51 L1587.75 716.72 L1589 715.7 L1590.25 715.69 L1591.5 714.72 L1592.75 714.91 L1594 715.12 L1595.25 713.85 L1596.5 714.39 L1597.75 712.5 L1599 711.51 L1600.25 712.7 L1601.5 711.34 L1602.75 711.96 L1604 711.25 L1605.25 709.63 L1606.5 709.96 L1607.75 707.78 L1609 707.5 L1610.25 707.87 L1611.5 704.37 L1612.75 705.72 L1614 703.75 L1615.25 700.57 L1616.5 700.49 L1617.75 697.5 L1619 697.26 L1620.25 698.75 L1621.5 695.8 L1622.75 687.5 L1624 684.06 L1625.25 682.5 L1626.5 682.99 L1627.75 680 L1629 682.52 L1630.25 692.5 L1631.5 688.75 L1632.75 680 L1634 675.24 L1635.25 675 L1636.5 677.06 L1637.75 674.19 L1639 676.25 L1640.25 678.97 L1641.5 680 L1642.75 677.7 L1644 676.86 L1645.25 676.25 L1646.5 673.12 L1647.75 672.5 L1649 669.89 L1650.25 668.75 L1651.5 669.93 L1652.75 675 L1654 677.39 L1655.25 680 L1656.5 678.12 L1657.75 678.89 L1659 676.25 L1660.25 674.14 L1661.5 673.75 L1662.75 676.28 L1664 677.5 L1665.25 670.47 L1666.5 668.75 L1667.75 673 L1669 671.57 L1670.25 675 L1671.5 675.73 L1672.75 670.98 L1674 671.25 L1675.25 672.2 L1676.5 670.76 L1677.75 672.5 L1679 677.05 L1680.25 676.69 L1681.5 680 L1682.75 681.63 L1684 680.82 L1685.25 682.5 L1686.5 683.25 L1687.75 680.39 L1689 681.25 L1690.25 681.2 L1691.5 682.75 L1692.75 685 L1694 685.95 L1695.25 681.89 L1696.5 685 L1697.75 688.2 L1699 686.86 L1700.25 691.25 L1701.5 693.49 L1702.75 692.5 L1704 695 L1705.25 694.76 L1706.5 694.92 L1707.75 696.25 L1709 697 L1710.25 694.11 L1711.5 693.75 L1712.75 696.07 L1714 695.76 L1715.25 698.75 L1716.5 699.99 L1717.75 700.54 L1719 702.5 L1720.25 704.78 L1721.5 704.26 L1722.75 707.5 L1724 707.71 L1725.25 705.45 L1726.5 705 L1727.75 710.59 L1729 712.5 L1730.25 712.68 L1731.5 713.75 L1732.75 712.99 L1734 714.56 L1735.25 715.28 L1736.5 714.47 L1737.75 715.96 L1739 715.46 L1740.25 717.11 L1741.5 716.51 L1742.75 716.33 L1744 717.59 L1745.25 716.12 L1746.5 716.41 L1747.75 716.8 L1749 717.35 L1750.25 717.34 L1751.5 715.84 L1752.75 716.92 L1754 716.03 L1755.25 717.23 L1756.5 716.51 L1757.92 714.52 L1759.33 715.13 L1760.75 713.75 L1760.75 720.7 Z" fill="#7c46d6" stroke="none"/>
<path d="M1534 720.7 L1535.25 720.5 L1536.5 720.5 L1537.75 720.5 L1539 720.5 L1540.25 720.5 L1541.5 720.5 L1542.75 720.5 L1544 720.5 L1545.25 720.5 L1546.5 720.5 L1547.75 720.5 L1549 720.5 L1550.25 720.5 L1551.5 720.5 L1552.75 720.5 L1554 720.5 L1555.25 720.5 L1556.5 720.5 L1557.75 720.5 L1559 720.5 L1560.25 720.5 L1561.5 720.5 L1562.75 720.5 L1564 720.5 L1565.25 720.5 L1566.5 720.5 L1567.75 720.5 L1569 720.5 L1570.25 720.5 L1571.5 720.5 L1572.75 720.5 L1574 720.5 L1575.25 720.7 L1576.5 718.14 L1577.75 717.35 L1579 717.47 L1580.25 715.37 L1581.5 717.76 L1582.75 715.98 L1584 717.29 L1585.25 715.92 L1586.5 716.51 L1587.75 716.72 L1589 715.7 L1590.25 715.69 L1591.5 714.72 L1592.75 714.91 L1594 715.12 L1595.25 713.85 L1596.5 714.39 L1597.75 712.5 L1599 711.51 L1600.25 712.7 L1601.5 711.34 L1602.75 711.96 L1604 711.25 L1605.25 709.63 L1606.5 709.96 L1607.75 707.78 L1609 707.5 L1610.25 707.87 L1611.5 704.37 L1612.75 705.72 L1614 703.75 L1615.25 700.57 L1616.5 700.49 L1617.75 697.5 L1619 697.26 L1620.25 698.75 L1621.5 695.8 L1622.75 687.5 L1624 684.06 L1625.25 682.5 L1626.5 682.99 L1627.75 680 L1629 682.52 L1630.25 692.5 L1631.5 688.75 L1632.75 680 L1634 675.24 L1635.25 675 L1636.5 677.06 L1637.75 674.19 L1639 676.25 L1640.25 678.97 L1641.5 680 L1642.75 677.7 L1644 676.86 L1645.25 676.25 L1646.5 673.12 L1647.75 672.5 L1649 669.89 L1650.25 668.75 L1651.5 669.93 L1652.75 675 L1654 677.39 L1655.25 680 L1656.5 678.12 L1657.75 678.89 L1659 676.25 L1660.25 674.14 L1661.5 673.75 L1662.75 676.28 L1664 677.5 L1665.25 670.47 L1666.5 668.75 L1667.75 673 L1669 671.57 L1670.25 675 L1671.5 675.73 L1672.75 670.98 L1674 671.25 L1675.25 672.2 L1676.5 670.76 L1677.75 672.5 L1679 677.05 L1680.25 676.69 L1681.5 680 L1682.75 681.63 L1684 680.82 L1685.25 682.5 L1686.5 683.25 L1687.75 680.39 L1689 681.25 L1690.25 681.2 L1691.5 682.75 L1692.75 685 L1694 685.95 L1695.25 681.89 L1696.5 685 L1697.75 688.2 L1699 686.86 L1700.25 691.25 L1701.5 693.49 L1702.75 692.5 L1704 695 L1705.25 694.76 L1706.5 694.92 L1707.75 696.25 L1709 697 L1710.25 694.11 L1711.5 693.75 L1712.75 696.07 L1714 695.76 L1715.25 698.75 L1716.5 699.99 L1717.75 700.54 L1719 702.5 L1720.25 704.78 L1721.5 704.26 L1722.75 707.5 L1724 707.71 L1725.25 705.45 L1726.5 705 L1727.75 710.59 L1729 712.5 L1730.25 712.68 L1731.5 713.75 L1732.75 712.99 L1734 714.56 L1735.25 715.28 L1736.5 714.47 L1737.75 715.96 L1739 715.46 L1740.25 717.11 L1741.5 716.51 L1742.75 716.33 L1744 717.59 L1745.25 716.12 L1746.5 716.41 L1747.75 716.8 L1749 717.35 L1750.25 717.34 L1751.5 715.84 L1752.75 716.92 L1754 716.03 L1755.25 717.23 L1756.5 716.51 L1757.92 714.52 L1759.33 715.13 L1760.75 713.75" fill="none" stroke="#12042a" stroke-width="1.05" stroke-linejoin="miter" stroke-miterlimit="3"/>
<rect x="1533.75" y="438.75" width="226.75" height="281.95" fill="none" stroke="#1f1f1f" stroke-width="1.35"/>
<line x1="1533.25" y1="720.7" x2="1576.5" y2="720.7" stroke="#0c0c0c" stroke-width="2.2" stroke-linecap="butt"/>
<line x1="1533.75" y1="720.7" x2="1760.5" y2="720.7" stroke="#241a33" stroke-width="1.5" stroke-linecap="butt"/>
<line x1="1527.45" y1="720.4" x2="1533.75" y2="720.4" stroke="#1f1f1f" stroke-width="1.3" stroke-linecap="butt"/>
<line x1="1530.15" y1="709.84" x2="1533.75" y2="709.84" stroke="#1f1f1f" stroke-width="1.25" stroke-linecap="butt"/>
<line x1="1530.15" y1="699.28" x2="1533.75" y2="699.28" stroke="#1f1f1f" stroke-width="1.25" stroke-linecap="butt"/>
<line x1="1530.15" y1="688.71" x2="1533.75" y2="688.71" stroke="#1f1f1f" stroke-width="1.25" stroke-linecap="butt"/>
<line x1="1530.15" y1="678.15" x2="1533.75" y2="678.15" stroke="#1f1f1f" stroke-width="1.25" stroke-linecap="butt"/>
<line x1="1527.45" y1="664.07" x2="1533.75" y2="664.07" stroke="#1f1f1f" stroke-width="1.3" stroke-linecap="butt"/>
<line x1="1530.15" y1="653.51" x2="1533.75" y2="653.51" stroke="#1f1f1f" stroke-width="1.25" stroke-linecap="butt"/>
<line x1="1530.15" y1="642.95" x2="1533.75" y2="642.95" stroke="#1f1f1f" stroke-width="1.25" stroke-linecap="butt"/>
<line x1="1530.15" y1="632.38" x2="1533.75" y2="632.38" stroke="#1f1f1f" stroke-width="1.25" stroke-linecap="butt"/>
<line x1="1530.15" y1="621.82" x2="1533.75" y2="621.82" stroke="#1f1f1f" stroke-width="1.25" stroke-linecap="butt"/>
<line x1="1527.45" y1="607.74" x2="1533.75" y2="607.74" stroke="#1f1f1f" stroke-width="1.3" stroke-linecap="butt"/>
<line x1="1530.15" y1="597.18" x2="1533.75" y2="597.18" stroke="#1f1f1f" stroke-width="1.25" stroke-linecap="butt"/>
<line x1="1530.15" y1="586.62" x2="1533.75" y2="586.62" stroke="#1f1f1f" stroke-width="1.25" stroke-linecap="butt"/>
<line x1="1530.15" y1="576.05" x2="1533.75" y2="576.05" stroke="#1f1f1f" stroke-width="1.25" stroke-linecap="butt"/>
<line x1="1530.15" y1="565.49" x2="1533.75" y2="565.49" stroke="#1f1f1f" stroke-width="1.25" stroke-linecap="butt"/>
<line x1="1527.45" y1="551.41" x2="1533.75" y2="551.41" stroke="#1f1f1f" stroke-width="1.3" stroke-linecap="butt"/>
<line x1="1530.15" y1="540.85" x2="1533.75" y2="540.85" stroke="#1f1f1f" stroke-width="1.25" stroke-linecap="butt"/>
<line x1="1530.15" y1="530.29" x2="1533.75" y2="530.29" stroke="#1f1f1f" stroke-width="1.25" stroke-linecap="butt"/>
<line x1="1530.15" y1="519.72" x2="1533.75" y2="519.72" stroke="#1f1f1f" stroke-width="1.25" stroke-linecap="butt"/>
<line x1="1530.15" y1="509.16" x2="1533.75" y2="509.16" stroke="#1f1f1f" stroke-width="1.25" stroke-linecap="butt"/>
<line x1="1527.45" y1="495.08" x2="1533.75" y2="495.08" stroke="#1f1f1f" stroke-width="1.3" stroke-linecap="butt"/>
<line x1="1530.15" y1="484.52" x2="1533.75" y2="484.52" stroke="#1f1f1f" stroke-width="1.25" stroke-linecap="butt"/>
<line x1="1530.15" y1="473.96" x2="1533.75" y2="473.96" stroke="#1f1f1f" stroke-width="1.25" stroke-linecap="butt"/>
<line x1="1530.15" y1="463.39" x2="1533.75" y2="463.39" stroke="#1f1f1f" stroke-width="1.25" stroke-linecap="butt"/>
<line x1="1530.15" y1="452.83" x2="1533.75" y2="452.83" stroke="#1f1f1f" stroke-width="1.25" stroke-linecap="butt"/>
<line x1="1527.45" y1="438.75" x2="1533.75" y2="438.75" stroke="#1f1f1f" stroke-width="1.3" stroke-linecap="butt"/>
<text x="1522" y="720.1" font-family='"Liberation Sans", sans-serif' font-size="11.7" font-weight="normal" text-anchor="middle" fill="#1c1c1c" transform="rotate(-90 1522 720.1)" stroke="#1c1c1c" stroke-width="0.25">0</text>
<text x="1523.2" y="663.07" font-family='"Liberation Sans", sans-serif' font-size="11.7" font-weight="normal" text-anchor="middle" fill="#1c1c1c" transform="rotate(-90 1523.2 663.07)" stroke="#1c1c1c" stroke-width="0.25">40</text>
<text x="1523.2" y="606.74" font-family='"Liberation Sans", sans-serif' font-size="11.7" font-weight="normal" text-anchor="middle" fill="#1c1c1c" transform="rotate(-90 1523.2 606.74)" stroke="#1c1c1c" stroke-width="0.25">80</text>
<text x="1523.2" y="550.11" font-family='"Liberation Sans", sans-serif' font-size="11.7" font-weight="normal" text-anchor="middle" fill="#1c1c1c" transform="rotate(-90 1523.2 550.11)" stroke="#1c1c1c" stroke-width="0.25">120</text>
<text x="1523.2" y="493.78" font-family='"Liberation Sans", sans-serif' font-size="11.7" font-weight="normal" text-anchor="middle" fill="#1c1c1c" transform="rotate(-90 1523.2 493.78)" stroke="#1c1c1c" stroke-width="0.25">160</text>
<text x="1523.2" y="438.95" font-family='"Liberation Sans", sans-serif' font-size="11.7" font-weight="normal" text-anchor="middle" fill="#1c1c1c" transform="rotate(-90 1523.2 438.95)" stroke="#1c1c1c" stroke-width="0.25">200</text>
<text x="1509.55" y="581.33" font-family='"Liberation Sans", sans-serif' font-size="12" font-weight="normal" text-anchor="middle" fill="#1c1c1c" transform="rotate(-90 1509.55 581.33)" stroke="#1c1c1c" stroke-width="0.25">Counts</text>
<line x1="1533.75" y1="720.7" x2="1533.75" y2="727.1" stroke="#1f1f1f" stroke-width="1.3" stroke-linecap="butt"/>
<line x1="1550.81" y1="720.7" x2="1550.81" y2="724.4" stroke="#1f1f1f" stroke-width="1.1" stroke-linecap="butt"/>
<line x1="1560.8" y1="720.7" x2="1560.8" y2="724.4" stroke="#1f1f1f" stroke-width="1.1" stroke-linecap="butt"/>
<line x1="1567.88" y1="720.7" x2="1567.88" y2="724.4" stroke="#1f1f1f" stroke-width="1.1" stroke-linecap="butt"/>
<line x1="1573.37" y1="720.7" x2="1573.37" y2="724.4" stroke="#1f1f1f" stroke-width="1.1" stroke-linecap="butt"/>
<line x1="1577.86" y1="720.7" x2="1577.86" y2="724.4" stroke="#1f1f1f" stroke-width="1.1" stroke-linecap="butt"/>
<line x1="1581.66" y1="720.7" x2="1581.66" y2="724.4" stroke="#1f1f1f" stroke-width="1.1" stroke-linecap="butt"/>
<line x1="1584.94" y1="720.7" x2="1584.94" y2="724.4" stroke="#1f1f1f" stroke-width="1.1" stroke-linecap="butt"/>
<line x1="1587.84" y1="720.7" x2="1587.84" y2="724.4" stroke="#1f1f1f" stroke-width="1.1" stroke-linecap="butt"/>
<text x="1532.75" y="741.4" font-family='"Liberation Sans", sans-serif' font-size="11.2" text-anchor="middle" fill="#1c1c1c" stroke="#1c1c1c" stroke-width="0.25">10<tspan dy="-5.9" font-size="10.4">0</tspan></text>
<line x1="1590.44" y1="720.7" x2="1590.44" y2="727.1" stroke="#1f1f1f" stroke-width="1.3" stroke-linecap="butt"/>
<line x1="1607.5" y1="720.7" x2="1607.5" y2="724.4" stroke="#1f1f1f" stroke-width="1.1" stroke-linecap="butt"/>
<line x1="1617.48" y1="720.7" x2="1617.48" y2="724.4" stroke="#1f1f1f" stroke-width="1.1" stroke-linecap="butt"/>
<line x1="1624.57" y1="720.7" x2="1624.57" y2="724.4" stroke="#1f1f1f" stroke-width="1.1" stroke-linecap="butt"/>
<line x1="1630.06" y1="720.7" x2="1630.06" y2="724.4" stroke="#1f1f1f" stroke-width="1.1" stroke-linecap="butt"/>
<line x1="1634.55" y1="720.7" x2="1634.55" y2="724.4" stroke="#1f1f1f" stroke-width="1.1" stroke-linecap="butt"/>
<line x1="1638.34" y1="720.7" x2="1638.34" y2="724.4" stroke="#1f1f1f" stroke-width="1.1" stroke-linecap="butt"/>
<line x1="1641.63" y1="720.7" x2="1641.63" y2="724.4" stroke="#1f1f1f" stroke-width="1.1" stroke-linecap="butt"/>
<line x1="1644.53" y1="720.7" x2="1644.53" y2="724.4" stroke="#1f1f1f" stroke-width="1.1" stroke-linecap="butt"/>
<text x="1589.44" y="741.4" font-family='"Liberation Sans", sans-serif' font-size="11.2" text-anchor="middle" fill="#1c1c1c" stroke="#1c1c1c" stroke-width="0.25">10<tspan dy="-5.9" font-size="10.4">1</tspan></text>
<line x1="1647.12" y1="720.7" x2="1647.12" y2="727.1" stroke="#1f1f1f" stroke-width="1.3" stroke-linecap="butt"/>
<line x1="1664.19" y1="720.7" x2="1664.19" y2="724.4" stroke="#1f1f1f" stroke-width="1.1" stroke-linecap="butt"/>
<line x1="1674.17" y1="720.7" x2="1674.17" y2="724.4" stroke="#1f1f1f" stroke-width="1.1" stroke-linecap="butt"/>
<line x1="1681.25" y1="720.7" x2="1681.25" y2="724.4" stroke="#1f1f1f" stroke-width="1.1" stroke-linecap="butt"/>
<line x1="1686.75" y1="720.7" x2="1686.75" y2="724.4" stroke="#1f1f1f" stroke-width="1.1" stroke-linecap="butt"/>
<line x1="1691.24" y1="720.7" x2="1691.24" y2="724.4" stroke="#1f1f1f" stroke-width="1.1" stroke-linecap="butt"/>
<line x1="1695.03" y1="720.7" x2="1695.03" y2="724.4" stroke="#1f1f1f" stroke-width="1.1" stroke-linecap="butt"/>
<line x1="1698.32" y1="720.7" x2="1698.32" y2="724.4" stroke="#1f1f1f" stroke-width="1.1" stroke-linecap="butt"/>
<line x1="1701.22" y1="720.7" x2="1701.22" y2="724.4" stroke="#1f1f1f" stroke-width="1.1" stroke-linecap="butt"/>
<text x="1646.12" y="741.4" font-family='"Liberation Sans", sans-serif' font-size="11.2" text-anchor="middle" fill="#1c1c1c" stroke="#1c1c1c" stroke-width="0.25">10<tspan dy="-5.9" font-size="10.4">2</tspan></text>
<line x1="1703.81" y1="720.7" x2="1703.81" y2="727.1" stroke="#1f1f1f" stroke-width="1.3" stroke-linecap="butt"/>
<line x1="1720.88" y1="720.7" x2="1720.88" y2="724.4" stroke="#1f1f1f" stroke-width="1.1" stroke-linecap="butt"/>
<line x1="1730.86" y1="720.7" x2="1730.86" y2="724.4" stroke="#1f1f1f" stroke-width="1.1" stroke-linecap="butt"/>
<line x1="1737.94" y1="720.7" x2="1737.94" y2="724.4" stroke="#1f1f1f" stroke-width="1.1" stroke-linecap="butt"/>
<line x1="1743.44" y1="720.7" x2="1743.44" y2="724.4" stroke="#1f1f1f" stroke-width="1.1" stroke-linecap="butt"/>
<line x1="1747.92" y1="720.7" x2="1747.92" y2="724.4" stroke="#1f1f1f" stroke-width="1.1" stroke-linecap="butt"/>
<line x1="1751.72" y1="720.7" x2="1751.72" y2="724.4" stroke="#1f1f1f" stroke-width="1.1" stroke-linecap="butt"/>
<line x1="1755.01" y1="720.7" x2="1755.01" y2="724.4" stroke="#1f1f1f" stroke-width="1.1" stroke-linecap="butt"/>
<line x1="1757.91" y1="720.7" x2="1757.91" y2="724.4" stroke="#1f1f1f" stroke-width="1.1" stroke-linecap="butt"/>
<text x="1702.81" y="741.4" font-family='"Liberation Sans", sans-serif' font-size="11.2" text-anchor="middle" fill="#1c1c1c" stroke="#1c1c1c" stroke-width="0.25">10<tspan dy="-5.9" font-size="10.4">3</tspan></text>
<line x1="1760.5" y1="720.7" x2="1760.5" y2="727.1" stroke="#1f1f1f" stroke-width="1.3" stroke-linecap="butt"/>
<text x="1759.5" y="741.4" font-family='"Liberation Sans", sans-serif' font-size="11.2" text-anchor="middle" fill="#1c1c1c" stroke="#1c1c1c" stroke-width="0.25">10<tspan dy="-5.9" font-size="10.4">4</tspan></text>
<text x="1644.6" y="754.3" font-family='"Liberation Sans", sans-serif' font-size="10.9" font-weight="normal" text-anchor="middle" fill="#1c1c1c" stroke="#1c1c1c" stroke-width="0.25">FL1</text>
<line x1="1626" y1="540" x2="1760.5" y2="540" stroke="#1f1f1f" stroke-width="1.35" stroke-linecap="butt"/>
<line x1="1626" y1="528.8" x2="1626" y2="551.2" stroke="#1f1f1f" stroke-width="1.35" stroke-linecap="butt"/>
<text x="1688.4" y="521.2" font-family='"Liberation Sans", sans-serif' font-size="12" font-weight="normal" text-anchor="middle" fill="#1c1c1c" stroke="#1c1c1c" stroke-width="0.2">M1</text>
</g>
</g>
</svg>
</body>
</html>
